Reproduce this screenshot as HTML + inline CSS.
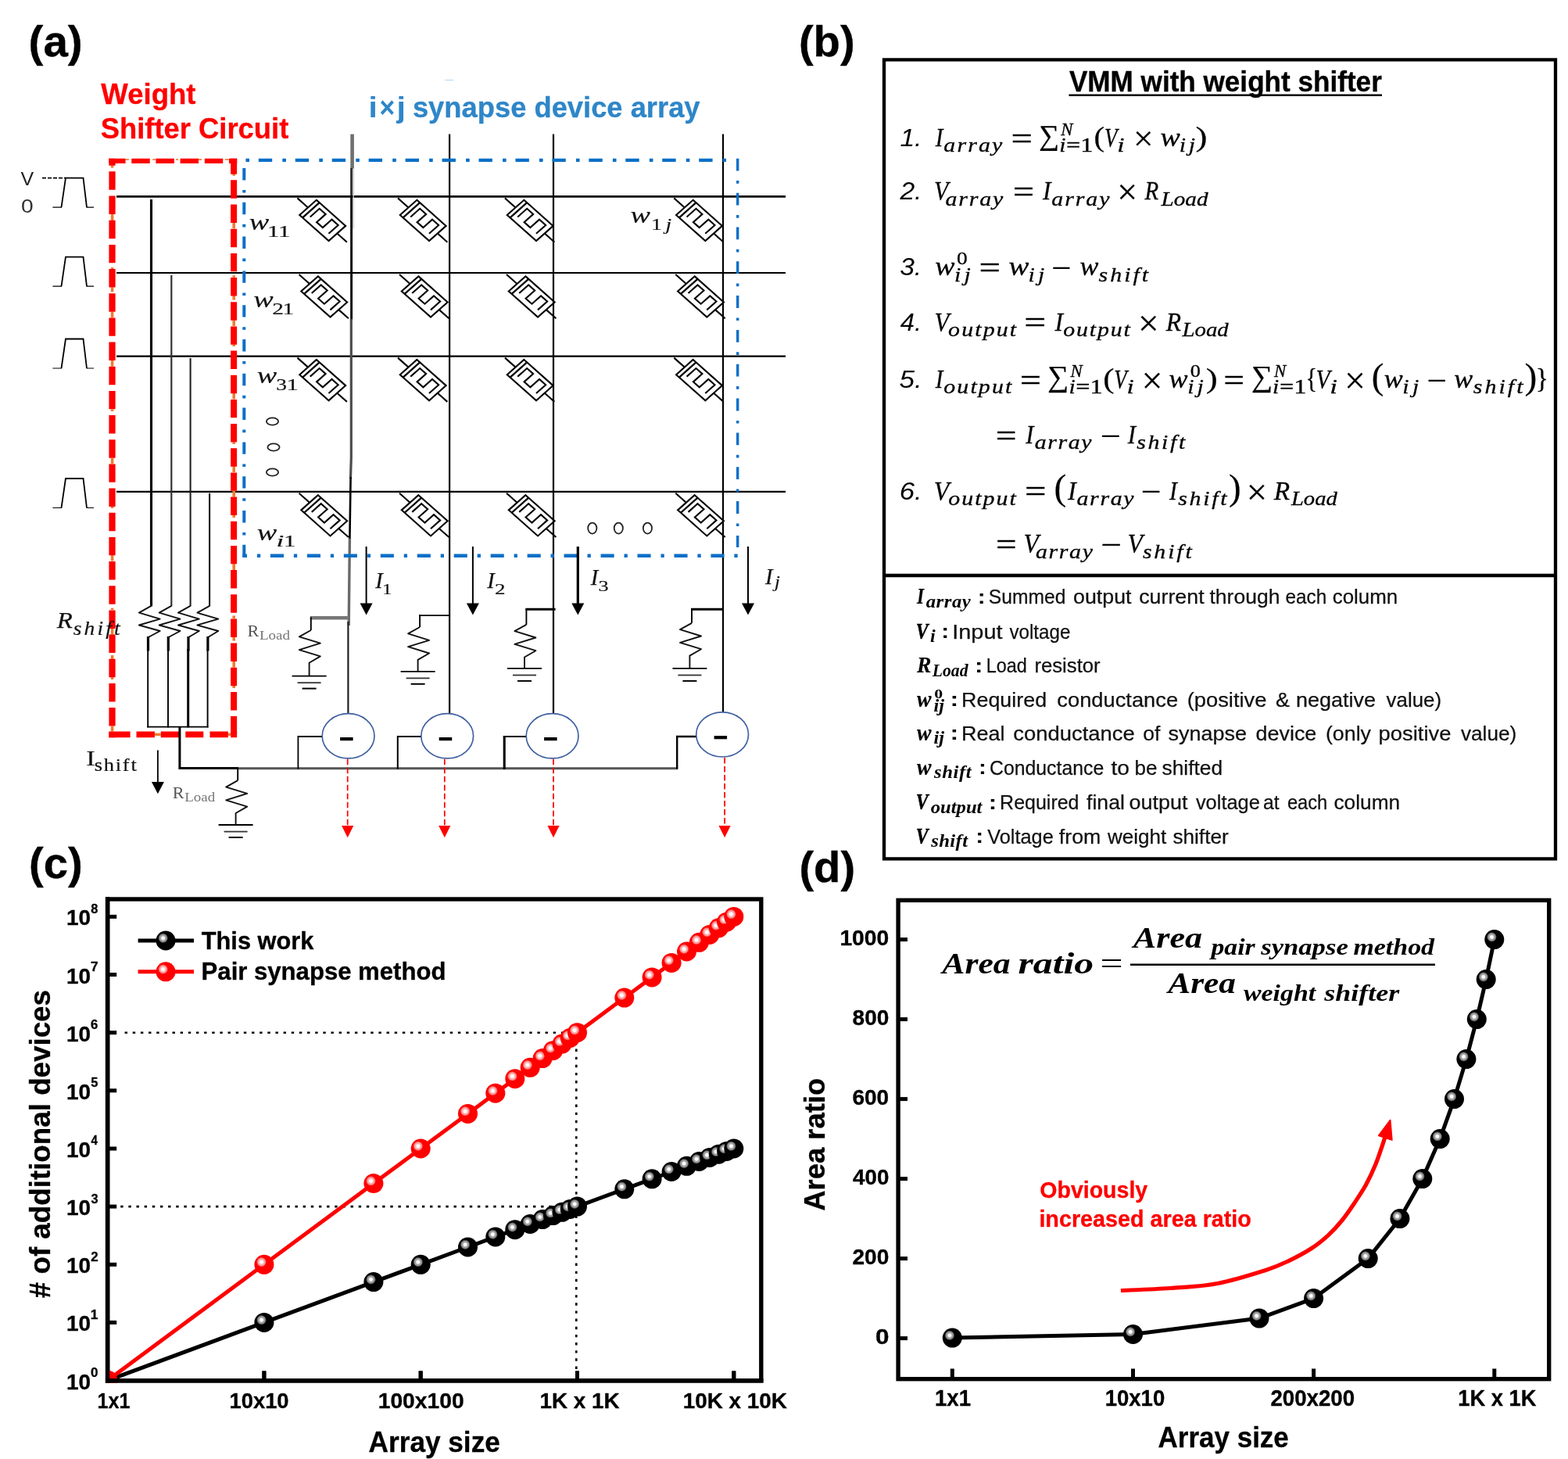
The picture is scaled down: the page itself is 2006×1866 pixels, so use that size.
<!DOCTYPE html>
<html lang="en">
<head>
<meta charset="utf-8">
<title>Weight shifter circuit figure</title>
<style>
html,body{margin:0;padding:0;background:#fff;}
body{width:2006px;height:1866px;overflow:hidden;}
svg{display:block;}
.f-sans{font-family:"Liberation Sans", Arial, Helvetica, sans-serif;}
.f-serif{font-family:"Liberation Serif", "Times New Roman", serif;}
text{white-space:pre;}
</style>
</head>
<body>
<svg width="2006" height="1866" viewBox="0 0 2006 1866">
<defs>
<radialGradient id="gk" cx="0.365" cy="0.372" r="0.255" fx="0.365" fy="0.372">
<stop offset="0" stop-color="#fff"/><stop offset="0.28" stop-color="#fff"/><stop offset="0.45" stop-color="#b4b4b4"/><stop offset="0.75" stop-color="#8a8a8a"/><stop offset="1" stop-color="#000"/>
</radialGradient>
<radialGradient id="gr" cx="0.365" cy="0.372" r="0.255" fx="0.365" fy="0.372">
<stop offset="0" stop-color="#fff"/><stop offset="0.28" stop-color="#fff"/><stop offset="0.45" stop-color="#ffc4c4"/><stop offset="0.75" stop-color="#ff8e8e"/><stop offset="1" stop-color="#ff0000"/>
</radialGradient>
</defs>
<rect x="0" y="0" width="2006" height="1866" fill="#fff"/>
<g id="panel-a">
<text class="f-sans" x="36.6" y="72.2" font-size="55.5" font-weight="bold" textLength="69.1" lengthAdjust="spacingAndGlyphs" stroke="#000" stroke-width="0.35" stroke-linejoin="round">(a)</text>
<text class="f-sans" x="129.3" y="133.0" font-size="36.5" font-weight="bold" fill="#ff0000" textLength="121.2" lengthAdjust="spacingAndGlyphs" stroke="#ff0000" stroke-width="0.3" stroke-linejoin="round">Weight</text>
<text class="f-sans" x="128.7" y="177.0" font-size="36.5" font-weight="bold" fill="#ff0000" textLength="240.6" lengthAdjust="spacingAndGlyphs" stroke="#ff0000" stroke-width="0.3" stroke-linejoin="round">Shifter Circuit</text>
<text class="f-sans" x="471.5" y="150.0" font-size="36.5" font-weight="bold" fill="#2e86c8" textLength="11.3" lengthAdjust="spacingAndGlyphs">i</text>
<text class="f-sans" x="485.5" y="150.0" font-size="36.5" font-weight="bold" fill="#2e86c8" textLength="19.7" lengthAdjust="spacingAndGlyphs">×</text>
<text class="f-sans" x="507.4" y="150.0" font-size="36.5" font-weight="bold" fill="#2e86c8" textLength="11.5" lengthAdjust="spacingAndGlyphs">j</text>
<text class="f-sans" x="527.9" y="150.0" font-size="36.5" font-weight="bold" fill="#2e86c8" textLength="367.7" lengthAdjust="spacingAndGlyphs" stroke="#2e86c8" stroke-width="0.3" stroke-linejoin="round">synapse device array</text>
<line x1="149.0" y1="251.4" x2="1005.0" y2="251.4" stroke="#000" stroke-width="2.9"/>
<line x1="149.0" y1="349.0" x2="1005.0" y2="349.0" stroke="#000" stroke-width="2.2"/>
<line x1="149.0" y1="455.6" x2="1005.0" y2="455.6" stroke="#000" stroke-width="2.2"/>
<line x1="149.0" y1="628.8" x2="1005.0" y2="628.8" stroke="#000" stroke-width="2.2"/>
<line x1="450.6" y1="171.6" x2="450.6" y2="216.0" stroke="#707070" stroke-width="4.6"/>
<line x1="452.2" y1="215.0" x2="452.2" y2="292.0" stroke="#c8c8c8" stroke-width="1.4"/>
<line x1="449.6" y1="215.0" x2="449.6" y2="251.0" stroke="#333" stroke-width="3"/>
<path d="M449.6,250 L449.6,409" stroke="#000" stroke-width="2.9" fill="none"/>
<path d="M449.3,408 L449.3,585 L448.5,612" stroke="#4c4c4c" stroke-width="3.2" fill="none"/>
<path d="M448.6,610 L447.4,690" stroke="#000" stroke-width="2.6" fill="none"/>
<path d="M447.4,689 L446.2,800" stroke="#6a6a6a" stroke-width="3.4" fill="none"/>
<line x1="445.4" y1="795.0" x2="445.4" y2="913.0" stroke="#222" stroke-width="2.2"/>
<line x1="575.1" y1="171.5" x2="575.1" y2="913.0" stroke="#000" stroke-width="2.2"/>
<line x1="708.0" y1="171.5" x2="708.0" y2="913.0" stroke="#000" stroke-width="2.2"/>
<line x1="925.0" y1="171.5" x2="925.0" y2="911.0" stroke="#000" stroke-width="2.2"/>
<g class="mem" transform="translate(380.5,253.4) scale(1.126,1) rotate(45)" fill="none" stroke="#000" stroke-width="2.1"><path vector-effect="non-scaling-stroke" d="M0,0 L17,0 M63.8,0 L79.6,0"/><path vector-effect="non-scaling-stroke" d="M17,-13.6 L63.8,-13.6 L63.8,13.5 L17,13.5 Z"/><path vector-effect="non-scaling-stroke" d="M21.8,-13.6 L21.8,13.5" stroke-width="2.3"/><path vector-effect="non-scaling-stroke" d="M27.2,6.8 L27.2,-8.2 L37.2,-8.2 L37.2,6.3 L47,6.3 L47,-8.3 L57.2,-8.3 L57.2,7"/></g>
<g class="mem" transform="translate(382.5,351.0) scale(1.126,1) rotate(45)" fill="none" stroke="#000" stroke-width="2.1"><path vector-effect="non-scaling-stroke" d="M0,0 L17,0 M63.8,0 L79.6,0"/><path vector-effect="non-scaling-stroke" d="M17,-13.6 L63.8,-13.6 L63.8,13.5 L17,13.5 Z"/><path vector-effect="non-scaling-stroke" d="M21.8,-13.6 L21.8,13.5" stroke-width="2.3"/><path vector-effect="non-scaling-stroke" d="M27.2,6.8 L27.2,-8.2 L37.2,-8.2 L37.2,6.3 L47,6.3 L47,-8.3 L57.2,-8.3 L57.2,7"/></g>
<g class="mem" transform="translate(380.5,457.6) scale(1.126,1) rotate(45)" fill="none" stroke="#000" stroke-width="2.1"><path vector-effect="non-scaling-stroke" d="M0,0 L17,0 M63.8,0 L79.6,0"/><path vector-effect="non-scaling-stroke" d="M17,-13.6 L63.8,-13.6 L63.8,13.5 L17,13.5 Z"/><path vector-effect="non-scaling-stroke" d="M21.8,-13.6 L21.8,13.5" stroke-width="2.3"/><path vector-effect="non-scaling-stroke" d="M27.2,6.8 L27.2,-8.2 L37.2,-8.2 L37.2,6.3 L47,6.3 L47,-8.3 L57.2,-8.3 L57.2,7"/></g>
<g class="mem" transform="translate(382.5,630.8) scale(1.126,1) rotate(45)" fill="none" stroke="#000" stroke-width="2.1"><path vector-effect="non-scaling-stroke" d="M0,0 L17,0 M63.8,0 L79.6,0"/><path vector-effect="non-scaling-stroke" d="M17,-13.6 L63.8,-13.6 L63.8,13.5 L17,13.5 Z"/><path vector-effect="non-scaling-stroke" d="M21.8,-13.6 L21.8,13.5" stroke-width="2.3"/><path vector-effect="non-scaling-stroke" d="M27.2,6.8 L27.2,-8.2 L37.2,-8.2 L37.2,6.3 L47,6.3 L47,-8.3 L57.2,-8.3 L57.2,7"/></g>
<g class="mem" transform="translate(509.0,253.4) scale(1.126,1) rotate(45)" fill="none" stroke="#000" stroke-width="2.1"><path vector-effect="non-scaling-stroke" d="M0,0 L17,0 M63.8,0 L79.6,0"/><path vector-effect="non-scaling-stroke" d="M17,-13.6 L63.8,-13.6 L63.8,13.5 L17,13.5 Z"/><path vector-effect="non-scaling-stroke" d="M21.8,-13.6 L21.8,13.5" stroke-width="2.3"/><path vector-effect="non-scaling-stroke" d="M27.2,6.8 L27.2,-8.2 L37.2,-8.2 L37.2,6.3 L47,6.3 L47,-8.3 L57.2,-8.3 L57.2,7"/></g>
<g class="mem" transform="translate(511.0,351.0) scale(1.126,1) rotate(45)" fill="none" stroke="#000" stroke-width="2.1"><path vector-effect="non-scaling-stroke" d="M0,0 L17,0 M63.8,0 L79.6,0"/><path vector-effect="non-scaling-stroke" d="M17,-13.6 L63.8,-13.6 L63.8,13.5 L17,13.5 Z"/><path vector-effect="non-scaling-stroke" d="M21.8,-13.6 L21.8,13.5" stroke-width="2.3"/><path vector-effect="non-scaling-stroke" d="M27.2,6.8 L27.2,-8.2 L37.2,-8.2 L37.2,6.3 L47,6.3 L47,-8.3 L57.2,-8.3 L57.2,7"/></g>
<g class="mem" transform="translate(509.0,457.6) scale(1.126,1) rotate(45)" fill="none" stroke="#000" stroke-width="2.1"><path vector-effect="non-scaling-stroke" d="M0,0 L17,0 M63.8,0 L79.6,0"/><path vector-effect="non-scaling-stroke" d="M17,-13.6 L63.8,-13.6 L63.8,13.5 L17,13.5 Z"/><path vector-effect="non-scaling-stroke" d="M21.8,-13.6 L21.8,13.5" stroke-width="2.3"/><path vector-effect="non-scaling-stroke" d="M27.2,6.8 L27.2,-8.2 L37.2,-8.2 L37.2,6.3 L47,6.3 L47,-8.3 L57.2,-8.3 L57.2,7"/></g>
<g class="mem" transform="translate(511.0,630.8) scale(1.126,1) rotate(45)" fill="none" stroke="#000" stroke-width="2.1"><path vector-effect="non-scaling-stroke" d="M0,0 L17,0 M63.8,0 L79.6,0"/><path vector-effect="non-scaling-stroke" d="M17,-13.6 L63.8,-13.6 L63.8,13.5 L17,13.5 Z"/><path vector-effect="non-scaling-stroke" d="M21.8,-13.6 L21.8,13.5" stroke-width="2.3"/><path vector-effect="non-scaling-stroke" d="M27.2,6.8 L27.2,-8.2 L37.2,-8.2 L37.2,6.3 L47,6.3 L47,-8.3 L57.2,-8.3 L57.2,7"/></g>
<g class="mem" transform="translate(646.0,253.4) scale(1.126,1) rotate(45)" fill="none" stroke="#000" stroke-width="2.1"><path vector-effect="non-scaling-stroke" d="M0,0 L17,0 M63.8,0 L79.6,0"/><path vector-effect="non-scaling-stroke" d="M17,-13.6 L63.8,-13.6 L63.8,13.5 L17,13.5 Z"/><path vector-effect="non-scaling-stroke" d="M21.8,-13.6 L21.8,13.5" stroke-width="2.3"/><path vector-effect="non-scaling-stroke" d="M27.2,6.8 L27.2,-8.2 L37.2,-8.2 L37.2,6.3 L47,6.3 L47,-8.3 L57.2,-8.3 L57.2,7"/></g>
<g class="mem" transform="translate(648.0,351.0) scale(1.126,1) rotate(45)" fill="none" stroke="#000" stroke-width="2.1"><path vector-effect="non-scaling-stroke" d="M0,0 L17,0 M63.8,0 L79.6,0"/><path vector-effect="non-scaling-stroke" d="M17,-13.6 L63.8,-13.6 L63.8,13.5 L17,13.5 Z"/><path vector-effect="non-scaling-stroke" d="M21.8,-13.6 L21.8,13.5" stroke-width="2.3"/><path vector-effect="non-scaling-stroke" d="M27.2,6.8 L27.2,-8.2 L37.2,-8.2 L37.2,6.3 L47,6.3 L47,-8.3 L57.2,-8.3 L57.2,7"/></g>
<g class="mem" transform="translate(646.0,457.6) scale(1.126,1) rotate(45)" fill="none" stroke="#000" stroke-width="2.1"><path vector-effect="non-scaling-stroke" d="M0,0 L17,0 M63.8,0 L79.6,0"/><path vector-effect="non-scaling-stroke" d="M17,-13.6 L63.8,-13.6 L63.8,13.5 L17,13.5 Z"/><path vector-effect="non-scaling-stroke" d="M21.8,-13.6 L21.8,13.5" stroke-width="2.3"/><path vector-effect="non-scaling-stroke" d="M27.2,6.8 L27.2,-8.2 L37.2,-8.2 L37.2,6.3 L47,6.3 L47,-8.3 L57.2,-8.3 L57.2,7"/></g>
<g class="mem" transform="translate(648.0,630.8) scale(1.126,1) rotate(45)" fill="none" stroke="#000" stroke-width="2.1"><path vector-effect="non-scaling-stroke" d="M0,0 L17,0 M63.8,0 L79.6,0"/><path vector-effect="non-scaling-stroke" d="M17,-13.6 L63.8,-13.6 L63.8,13.5 L17,13.5 Z"/><path vector-effect="non-scaling-stroke" d="M21.8,-13.6 L21.8,13.5" stroke-width="2.3"/><path vector-effect="non-scaling-stroke" d="M27.2,6.8 L27.2,-8.2 L37.2,-8.2 L37.2,6.3 L47,6.3 L47,-8.3 L57.2,-8.3 L57.2,7"/></g>
<g class="mem" transform="translate(862.3,253.4) scale(1.126,1) rotate(45)" fill="none" stroke="#000" stroke-width="2.1"><path vector-effect="non-scaling-stroke" d="M0,0 L17,0 M63.8,0 L79.6,0"/><path vector-effect="non-scaling-stroke" d="M17,-13.6 L63.8,-13.6 L63.8,13.5 L17,13.5 Z"/><path vector-effect="non-scaling-stroke" d="M21.8,-13.6 L21.8,13.5" stroke-width="2.3"/><path vector-effect="non-scaling-stroke" d="M27.2,6.8 L27.2,-8.2 L37.2,-8.2 L37.2,6.3 L47,6.3 L47,-8.3 L57.2,-8.3 L57.2,7"/></g>
<g class="mem" transform="translate(864.3,351.0) scale(1.126,1) rotate(45)" fill="none" stroke="#000" stroke-width="2.1"><path vector-effect="non-scaling-stroke" d="M0,0 L17,0 M63.8,0 L79.6,0"/><path vector-effect="non-scaling-stroke" d="M17,-13.6 L63.8,-13.6 L63.8,13.5 L17,13.5 Z"/><path vector-effect="non-scaling-stroke" d="M21.8,-13.6 L21.8,13.5" stroke-width="2.3"/><path vector-effect="non-scaling-stroke" d="M27.2,6.8 L27.2,-8.2 L37.2,-8.2 L37.2,6.3 L47,6.3 L47,-8.3 L57.2,-8.3 L57.2,7"/></g>
<g class="mem" transform="translate(862.3,457.6) scale(1.126,1) rotate(45)" fill="none" stroke="#000" stroke-width="2.1"><path vector-effect="non-scaling-stroke" d="M0,0 L17,0 M63.8,0 L79.6,0"/><path vector-effect="non-scaling-stroke" d="M17,-13.6 L63.8,-13.6 L63.8,13.5 L17,13.5 Z"/><path vector-effect="non-scaling-stroke" d="M21.8,-13.6 L21.8,13.5" stroke-width="2.3"/><path vector-effect="non-scaling-stroke" d="M27.2,6.8 L27.2,-8.2 L37.2,-8.2 L37.2,6.3 L47,6.3 L47,-8.3 L57.2,-8.3 L57.2,7"/></g>
<g class="mem" transform="translate(864.3,630.8) scale(1.126,1) rotate(45)" fill="none" stroke="#000" stroke-width="2.1"><path vector-effect="non-scaling-stroke" d="M0,0 L17,0 M63.8,0 L79.6,0"/><path vector-effect="non-scaling-stroke" d="M17,-13.6 L63.8,-13.6 L63.8,13.5 L17,13.5 Z"/><path vector-effect="non-scaling-stroke" d="M21.8,-13.6 L21.8,13.5" stroke-width="2.3"/><path vector-effect="non-scaling-stroke" d="M27.2,6.8 L27.2,-8.2 L37.2,-8.2 L37.2,6.3 L47,6.3 L47,-8.3 L57.2,-8.3 L57.2,7"/></g>
<line x1="314.4" y1="204.9" x2="929.0" y2="204.9" stroke="#0b6fc7" stroke-width="4.3" stroke-dasharray="4.6 11.8 17.4 13.15"/>
<line x1="312.3" y1="215.0" x2="312.3" y2="712.9" stroke="#0b6fc7" stroke-width="4" stroke-dasharray="15.4 12.6 3.6 12.2"/>
<line x1="943.7" y1="202.8" x2="943.7" y2="700.0" stroke="#0b6fc7" stroke-width="3.4" stroke-dasharray="15.8 12.5 3.7 11.83"/>
<line x1="310.3" y1="710.8" x2="316.0" y2="710.8" stroke="#0b6fc7" stroke-width="4.4"/>
<line x1="328.9" y1="710.8" x2="944.0" y2="710.8" stroke="#0b6fc7" stroke-width="4.4" stroke-dasharray="4.3 12.7 17.1 12.86"/>
<rect x="141.8" y="211.4" width="3.6" height="3.2" fill="#ed7d31"/>
<rect x="141.8" y="274" width="3.6" height="8" fill="#ed7d31"/>
<rect x="141.8" y="342" width="3.6" height="2.2" fill="#ed7d31"/>
<rect x="141.8" y="367.4" width="3.6" height="6" fill="#ed7d31"/>
<rect x="297.4" y="222" width="3.6" height="2.8" fill="#ed7d31"/>
<rect x="297.4" y="284.5" width="3.6" height="7.8" fill="#ed7d31"/>
<rect x="297.4" y="352.2" width="3.6" height="2.6" fill="#ed7d31"/>
<rect x="297.4" y="378" width="3.6" height="5.6" fill="#ed7d31"/>
<rect x="160.5" y="203.2" width="4.4" height="1.7" fill="#ed7d31"/>
<rect x="195.2" y="203.2" width="4" height="1.7" fill="#ed7d31"/>
<rect x="225" y="203.2" width="3" height="1.7" fill="#ed7d31"/>
<rect x="254" y="203.2" width="4" height="1.7" fill="#ed7d31"/>
<rect x="288" y="203.2" width="4.6" height="1.7" fill="#ed7d31"/>
<rect x="197.9" y="937.6" width="7.8" height="3.6" fill="#ed7d31"/>
<rect x="291.7" y="937.6" width="3.6" height="3.6" fill="#ed7d31"/>
<rect x="141.8" y="647.3" width="3.6" height="2.7" fill="#ed7d31"/>
<rect x="141.8" y="708.6" width="3.6" height="8.8" fill="#ed7d31"/>
<rect x="141.8" y="777.7" width="3.6" height="2.3" fill="#ed7d31"/>
<rect x="141.8" y="804" width="3.6" height="7.8" fill="#ed7d31"/>
<rect x="141.8" y="838" width="3.6" height="5.0" fill="#ed7d31"/>
<rect x="141.8" y="866" width="3.6" height="3.0" fill="#ed7d31"/>
<rect x="141.8" y="928.6" width="3.6" height="6.8" fill="#ed7d31"/>
<rect x="141.8" y="399" width="3.6" height="7.3" fill="#ed7d31"/>
<rect x="141.8" y="461" width="3.6" height="7.6" fill="#ed7d31"/>
<rect x="141.8" y="523.5" width="3.6" height="2.5" fill="#ed7d31"/>
<rect x="141.8" y="586" width="3.6" height="7.2" fill="#ed7d31"/>
<rect x="297.4" y="627.8" width="3.6" height="7.8" fill="#ed7d31"/>
<rect x="297.4" y="658.9" width="3.6" height="3.1" fill="#ed7d31"/>
<rect x="297.4" y="720.7" width="3.6" height="8.3" fill="#ed7d31"/>
<rect x="297.4" y="787.4" width="3.6" height="3.9" fill="#ed7d31"/>
<rect x="297.4" y="814.7" width="3.6" height="4.9" fill="#ed7d31"/>
<rect x="297.4" y="845.9" width="3.6" height="7.7" fill="#ed7d31"/>
<rect x="297.4" y="877" width="3.6" height="3.0" fill="#ed7d31"/>
<rect x="297.4" y="409.3" width="3.6" height="7.7" fill="#ed7d31"/>
<rect x="297.4" y="440.4" width="3.6" height="2.6" fill="#ed7d31"/>
<rect x="297.4" y="502.8" width="3.6" height="7.7" fill="#ed7d31"/>
<rect x="297.4" y="565.2" width="3.6" height="2.8" fill="#ed7d31"/>
<rect x="297.4" y="596.3" width="3.6" height="7.7" fill="#ed7d31"/>
<line x1="139.3" y1="205.9" x2="303.2" y2="205.9" stroke="#ff0000" stroke-width="6.4" stroke-dasharray="23.45 7.72" stroke-dashoffset="2.2"/>
<line x1="143.5" y1="202.7" x2="143.5" y2="943.2" stroke="#ff0000" stroke-width="8.2" stroke-dasharray="23.45 7.72" stroke-dashoffset="14.5"/>
<line x1="299.1" y1="202.7" x2="299.1" y2="943.2" stroke="#ff0000" stroke-width="8" stroke-dasharray="23.45 7.72" stroke-dashoffset="3.5"/>
<line x1="139.4" y1="939.3" x2="303.1" y2="939.3" stroke="#ff0000" stroke-width="7.8" stroke-dasharray="27.2 7.9 23.4 7.9 23.3 8.2 23 8.2 23.3 3.5 8"/>
<line x1="569.0" y1="102.4" x2="580.5" y2="102.4" stroke="#b5d6f2" stroke-width="1"/>
<g class="pulse" transform="translate(0,227.6)" fill="none" stroke="#000" stroke-width="1.8"><path d="M78.5,37.5 L84,0 L106.5,0 L111,37.5"/><path d="M67.4,37.5 L79,37.5 M110.5,37.5 L120,37.5" stroke-width="1.2"/></g>
<g class="pulse" transform="translate(0,328.7)" fill="none" stroke="#000" stroke-width="1.8"><path d="M78.5,37.5 L84,0 L106.5,0 L111,37.5"/><path d="M67.4,37.5 L79,37.5 M110.5,37.5 L120,37.5" stroke-width="1.2"/></g>
<g class="pulse" transform="translate(0,433.5)" fill="none" stroke="#000" stroke-width="1.8"><path d="M78.5,37.5 L84,0 L106.5,0 L111,37.5"/><path d="M67.4,37.5 L79,37.5 M110.5,37.5 L120,37.5" stroke-width="1.2"/></g>
<g class="pulse" transform="translate(0,612.0)" fill="none" stroke="#000" stroke-width="1.8"><path d="M78.5,37.5 L84,0 L106.5,0 L111,37.5"/><path d="M67.4,37.5 L79,37.5 M110.5,37.5 L120,37.5" stroke-width="1.2"/></g>
<line x1="54.0" y1="227.6" x2="84.0" y2="227.6" stroke="#000" stroke-width="1.6" stroke-dasharray="5 2"/>
<text class="f-sans" x="26.4" y="236.6" font-size="23.5" font-weight="normal" fill="#222" textLength="16.7" lengthAdjust="spacingAndGlyphs">V</text>
<text class="f-sans" x="26.9" y="272.2" font-size="23.5" font-weight="normal" fill="#333" textLength="15.7" lengthAdjust="spacingAndGlyphs">0</text>
<text class="f-serif" x="318.7" y="294.2" font-size="28.5" font-weight="normal" font-style="italic" fill="#111" textLength="25.5" lengthAdjust="spacingAndGlyphs" stroke="#111" stroke-width="0.15" stroke-linejoin="round">w</text>
<text class="f-serif" x="341.9" y="302.8" font-size="22" font-weight="normal" fill="#111" textLength="15.3" lengthAdjust="spacingAndGlyphs" stroke="#111" stroke-width="0.2" stroke-linejoin="round">1</text>
<text class="f-serif" x="355.9" y="302.8" font-size="22" font-weight="normal" fill="#111" textLength="15.3" lengthAdjust="spacingAndGlyphs" stroke="#111" stroke-width="0.2" stroke-linejoin="round">1</text>
<text class="f-serif" x="324.2" y="393.0" font-size="28.5" font-weight="normal" font-style="italic" fill="#111" textLength="25.5" lengthAdjust="spacingAndGlyphs" stroke="#111" stroke-width="0.15" stroke-linejoin="round">w</text>
<text class="f-serif" x="348.3" y="401.6" font-size="22" font-weight="normal" fill="#111" textLength="14.7" lengthAdjust="spacingAndGlyphs" stroke="#111" stroke-width="0.2" stroke-linejoin="round">2</text>
<text class="f-serif" x="361.5" y="401.6" font-size="22" font-weight="normal" fill="#111" textLength="14.6" lengthAdjust="spacingAndGlyphs" stroke="#111" stroke-width="0.2" stroke-linejoin="round">1</text>
<text class="f-serif" x="328.7" y="490.0" font-size="28.5" font-weight="normal" font-style="italic" fill="#111" textLength="25.5" lengthAdjust="spacingAndGlyphs" stroke="#111" stroke-width="0.15" stroke-linejoin="round">w</text>
<text class="f-serif" x="353.3" y="498.6" font-size="22" font-weight="normal" fill="#111" textLength="13.7" lengthAdjust="spacingAndGlyphs" stroke="#111" stroke-width="0.2" stroke-linejoin="round">3</text>
<text class="f-serif" x="366.4" y="498.6" font-size="22" font-weight="normal" fill="#111" textLength="15.3" lengthAdjust="spacingAndGlyphs" stroke="#111" stroke-width="0.2" stroke-linejoin="round">1</text>
<text class="f-serif" x="328.7" y="690.6" font-size="28.5" font-weight="normal" font-style="italic" fill="#111" textLength="25.5" lengthAdjust="spacingAndGlyphs" stroke="#111" stroke-width="0.15" stroke-linejoin="round">w</text>
<text class="f-serif" x="353.6" y="699.2" font-size="22" font-weight="normal" font-style="italic" fill="#111" textLength="9.8" lengthAdjust="spacingAndGlyphs" stroke="#111" stroke-width="0.2" stroke-linejoin="round">i</text>
<text class="f-serif" x="362.9" y="699.2" font-size="22" font-weight="normal" fill="#111" textLength="15.3" lengthAdjust="spacingAndGlyphs" stroke="#111" stroke-width="0.2" stroke-linejoin="round">1</text>
<text class="f-serif" x="806.5" y="285.4" font-size="28.5" font-weight="normal" font-style="italic" fill="#111" textLength="25.5" lengthAdjust="spacingAndGlyphs" stroke="#111" stroke-width="0.15" stroke-linejoin="round">w</text>
<text class="f-serif" x="833.1" y="294.0" font-size="22" font-weight="normal" fill="#111" textLength="13.9" lengthAdjust="spacingAndGlyphs" stroke="#111" stroke-width="0.2" stroke-linejoin="round">1</text>
<text class="f-serif" x="851.4" y="294.0" font-size="22" font-weight="normal" font-style="italic" fill="#111" textLength="7.6" lengthAdjust="spacingAndGlyphs" stroke="#111" stroke-width="0.2" stroke-linejoin="round">j</text>
<ellipse cx="348.5" cy="539" rx="7.6" ry="4.6" fill="none" stroke="#222" stroke-width="1.8"/>
<ellipse cx="350" cy="572" rx="7.6" ry="4.6" fill="none" stroke="#222" stroke-width="1.8"/>
<ellipse cx="348.5" cy="604" rx="7.6" ry="4.6" fill="none" stroke="#222" stroke-width="1.8"/>
<ellipse cx="757.8" cy="675.6" rx="5.6" ry="7" fill="none" stroke="#222" stroke-width="1.8"/>
<ellipse cx="791.3" cy="675.6" rx="5.6" ry="7" fill="none" stroke="#222" stroke-width="1.8"/>
<ellipse cx="828.4" cy="675.6" rx="5.6" ry="7" fill="none" stroke="#222" stroke-width="1.8"/>
<line x1="468.6" y1="699.0" x2="468.6" y2="773.4" stroke="#000" stroke-width="2"/>
<path d="M460.6,771.4 L476.6,771.4 L468.6,786.6 Z" fill="#000"/>
<line x1="604.9" y1="699.0" x2="604.9" y2="773.4" stroke="#000" stroke-width="2"/>
<path d="M596.9,771.4 L612.9,771.4 L604.9,786.6 Z" fill="#000"/>
<line x1="739.3" y1="699.0" x2="739.3" y2="773.4" stroke="#000" stroke-width="3.2"/>
<path d="M731.3,771.4 L747.3,771.4 L739.3,786.6 Z" fill="#000"/>
<line x1="957.0" y1="699.0" x2="957.0" y2="773.4" stroke="#000" stroke-width="2"/>
<path d="M949.0,771.4 L965.0,771.4 L957.0,786.6 Z" fill="#000"/>
<text class="f-serif" x="480.2" y="752.3" font-size="30" font-weight="normal" font-style="italic" fill="#111" textLength="9.5" lengthAdjust="spacingAndGlyphs" stroke="#111" stroke-width="0.25" stroke-linejoin="round">I</text>
<text class="f-serif" x="489.1" y="759.7" font-size="18.5" font-weight="normal" fill="#111" textLength="12.5" lengthAdjust="spacingAndGlyphs" stroke="#111" stroke-width="0.2" stroke-linejoin="round">1</text>
<text class="f-serif" x="623.2" y="752.3" font-size="30" font-weight="normal" font-style="italic" fill="#111" textLength="9.5" lengthAdjust="spacingAndGlyphs" stroke="#111" stroke-width="0.25" stroke-linejoin="round">I</text>
<text class="f-serif" x="633.1" y="759.7" font-size="18.5" font-weight="normal" fill="#111" textLength="13.5" lengthAdjust="spacingAndGlyphs" stroke="#111" stroke-width="0.2" stroke-linejoin="round">2</text>
<text class="f-serif" x="755.8" y="748.4" font-size="30" font-weight="normal" font-style="italic" fill="#111" textLength="9.5" lengthAdjust="spacingAndGlyphs" stroke="#111" stroke-width="0.25" stroke-linejoin="round">I</text>
<text class="f-serif" x="765.6" y="755.8" font-size="18.5" font-weight="normal" fill="#111" textLength="13.1" lengthAdjust="spacingAndGlyphs" stroke="#111" stroke-width="0.2" stroke-linejoin="round">3</text>
<text class="f-serif" x="979.0" y="747.0" font-size="30" font-weight="normal" font-style="italic" fill="#111" textLength="9.5" lengthAdjust="spacingAndGlyphs" stroke="#111" stroke-width="0.25" stroke-linejoin="round">I</text>
<text class="f-serif" x="990.9" y="751.2" font-size="20" font-weight="normal" font-style="italic" fill="#111" textLength="6.8" lengthAdjust="spacingAndGlyphs" stroke="#111" stroke-width="0.2" stroke-linejoin="round">j</text>
<line x1="193.5" y1="255.0" x2="193.5" y2="775.5" stroke="#000" stroke-width="3.1"/>
<path d="M193.5,774.8 L177.9,783.7 L204.7,791.6 L177.9,799.5 L204.7,807 L189.8,815" stroke="#111" stroke-width="1.9" fill="none" stroke-linejoin="round"/>
<line x1="189.5" y1="814.0" x2="189.5" y2="832.5" stroke="#000" stroke-width="3.2"/>
<line x1="189.2" y1="830.0" x2="189.2" y2="930.4" stroke="#000" stroke-width="1.9"/>
<line x1="219.3" y1="352.0" x2="219.3" y2="775.5" stroke="#333" stroke-width="2.2"/>
<path d="M219.3,774.8 L203.7,783.7 L230.5,791.6 L203.7,799.5 L230.5,807 L215.6,815" stroke="#111" stroke-width="1.9" fill="none" stroke-linejoin="round"/>
<line x1="215.3" y1="814.0" x2="215.3" y2="832.5" stroke="#000" stroke-width="3.2"/>
<line x1="215.0" y1="830.0" x2="215.0" y2="930.4" stroke="#000" stroke-width="1.9"/>
<line x1="243.6" y1="458.0" x2="243.6" y2="775.5" stroke="#222" stroke-width="2.1"/>
<path d="M243.6,774.8 L228.0,783.7 L254.8,791.6 L228.0,799.5 L254.8,807 L241.3,815" stroke="#111" stroke-width="1.9" fill="none" stroke-linejoin="round"/>
<line x1="241.0" y1="814.0" x2="241.0" y2="832.5" stroke="#000" stroke-width="3.2"/>
<line x1="240.7" y1="830.0" x2="240.7" y2="930.4" stroke="#000" stroke-width="3"/>
<line x1="268.1" y1="630.8" x2="268.1" y2="775.5" stroke="#000" stroke-width="2"/>
<path d="M268.1,774.8 L252.5,783.7 L279.3,791.6 L252.5,799.5 L279.3,807 L266.2,815" stroke="#111" stroke-width="1.9" fill="none" stroke-linejoin="round"/>
<line x1="265.9" y1="814.0" x2="265.9" y2="832.5" stroke="#000" stroke-width="3.2"/>
<line x1="265.6" y1="830.0" x2="265.6" y2="930.4" stroke="#000" stroke-width="1.9"/>
<line x1="188.3" y1="929.7" x2="266.5" y2="929.7" stroke="#000" stroke-width="1.8"/>
<path d="M229.9,929 L229.9,982.4 L305,982.4" stroke="#000" stroke-width="3" fill="none"/>
<line x1="304.0" y1="982.7" x2="867.2" y2="982.7" stroke="#555" stroke-width="3"/>
<text class="f-serif" x="72.8" y="803.3" font-size="30" font-weight="normal" font-style="italic" fill="#111" textLength="20.1" lengthAdjust="spacingAndGlyphs" stroke="#111" stroke-width="0.25" stroke-linejoin="round">R</text>
<text class="f-serif" x="93.7" y="811.6" font-size="25" font-weight="normal" font-style="italic" fill="#111" textLength="63.1" lengthAdjust="spacingAndGlyphs" letter-spacing="2.87" stroke="#111" stroke-width="0.2">shift</text>
<text class="f-serif" x="110.2" y="978.6" font-size="28" font-weight="normal" fill="#111" textLength="11.5" lengthAdjust="spacingAndGlyphs" stroke="#111" stroke-width="0.2" stroke-linejoin="round">I</text>
<text class="f-serif" x="120.7" y="986.2" font-size="24" font-weight="normal" fill="#111" textLength="55.8" lengthAdjust="spacingAndGlyphs" letter-spacing="1.61" stroke="#111" stroke-width="0.2">shift</text>
<line x1="201.9" y1="959.6" x2="201.9" y2="1002.0" stroke="#000" stroke-width="1.8"/>
<path d="M193.9,1000.0 L209.9,1000.0 L201.9,1015.2 Z" fill="#000"/>
<line x1="446.5" y1="790.3" x2="396.8" y2="790.3" stroke="#777" stroke-width="4.6"/>
<path d="M397.8,789.3 L397.8,806.0" stroke="#000" stroke-width="1.9" fill="none"/>
<path d="M397.8,806.0 L382.8,814.4 L409.8,822.7 L382.8,831.1 L409.8,839.4 L395.6,847.8 L395.6,864.6" stroke="#111" stroke-width="1.9" fill="none" stroke-linejoin="round"/>
<g class="gnd" transform="translate(395.6,864.6)" fill="none" stroke="#000"><path d="M-22,0 L22,0" stroke-width="1.8"/><path d="M-15,8.6 L15,8.6" stroke-width="1.8" stroke="#333"/><path d="M-9,16 L9,16" stroke-width="2"/></g>
<line x1="575.0" y1="787.1" x2="536.1" y2="787.1" stroke="#000" stroke-width="1.6"/>
<path d="M537.1,786.1 L537.1,802.0" stroke="#000" stroke-width="1.9" fill="none"/>
<path d="M537.1,802.0 L522.1,810.4 L549.1,818.8 L522.1,827.1 L549.1,835.5 L534.6,843.9 L534.6,858.8" stroke="#111" stroke-width="1.9" fill="none" stroke-linejoin="round"/>
<g class="gnd" transform="translate(534.6,858.8)" fill="none" stroke="#000"><path d="M-22,0 L22,0" stroke-width="1.8"/><path d="M-15,8.6 L15,8.6" stroke-width="1.8" stroke="#333"/><path d="M-9,16 L9,16" stroke-width="2"/></g>
<line x1="710.6" y1="779.3" x2="672.4" y2="779.3" stroke="#000" stroke-width="3"/>
<path d="M673.4,778.3 L673.4,798.9" stroke="#000" stroke-width="1.9" fill="none"/>
<path d="M673.4,798.9 L658.4,807.2 L685.4,815.5 L658.4,823.9 L685.4,832.2 L671.0,840.5 L671.0,854.9" stroke="#111" stroke-width="1.9" fill="none" stroke-linejoin="round"/>
<g class="gnd" transform="translate(671.0,854.9)" fill="none" stroke="#000"><path d="M-22,0 L22,0" stroke-width="1.8"/><path d="M-15,8.6 L15,8.6" stroke-width="1.8" stroke="#333"/><path d="M-9,16 L9,16" stroke-width="2"/></g>
<line x1="925.0" y1="779.3" x2="884.0" y2="779.3" stroke="#000" stroke-width="3"/>
<path d="M885.0,778.3 L885.0,796.8" stroke="#000" stroke-width="1.9" fill="none"/>
<path d="M885.0,796.8 L870.0,805.2 L897.0,813.5 L870.0,821.9 L897.0,830.2 L882.4,838.6 L882.4,854.9" stroke="#111" stroke-width="1.9" fill="none" stroke-linejoin="round"/>
<g class="gnd" transform="translate(882.4,854.9)" fill="none" stroke="#000"><path d="M-22,0 L22,0" stroke-width="1.8"/><path d="M-15,8.6 L15,8.6" stroke-width="1.8" stroke="#333"/><path d="M-9,16 L9,16" stroke-width="2"/></g>
<path d="M304.2,981.5 L304.2,998.2" stroke="#000" stroke-width="1.9" fill="none"/>
<path d="M304.2,998.2 L289.2,1006.6 L316.2,1014.9 L289.2,1023.3 L316.2,1031.6 L301.6,1040.0 L301.6,1055.0" stroke="#111" stroke-width="1.9" fill="none" stroke-linejoin="round"/>
<g class="gnd" transform="translate(301.6,1055.0)" fill="none" stroke="#000"><path d="M-22,0 L22,0" stroke-width="1.8"/><path d="M-15,8.6 L15,8.6" stroke-width="1.8" stroke="#333"/><path d="M-9,16 L9,16" stroke-width="2"/></g>
<text class="f-serif" x="316.4" y="813.7" font-size="20.5" font-weight="normal" fill="#555" textLength="14.9" lengthAdjust="spacingAndGlyphs">R</text>
<text class="f-serif" x="331.9" y="817.6" font-size="17.5" font-weight="normal" fill="#777" textLength="39.0" lengthAdjust="spacingAndGlyphs">Load</text>
<text class="f-serif" x="220.7" y="1020.6" font-size="20.5" font-weight="normal" fill="#555" textLength="14.9" lengthAdjust="spacingAndGlyphs">R</text>
<text class="f-serif" x="236.2" y="1024.5" font-size="17.5" font-weight="normal" fill="#777" textLength="39.0" lengthAdjust="spacingAndGlyphs">Load</text>
<path d="M413.5,942 L381.4,942 L381.4,983.5" stroke="#000" stroke-width="1.8" fill="none"/>
<ellipse cx="445.6" cy="941.3" rx="33.4" ry="28.6" fill="#fff" stroke="#3f5fa0" stroke-width="1.7"/>
<line x1="435.1" y1="945.1" x2="451.6" y2="945.1" stroke="#000" stroke-width="4.2"/>
<line x1="444.7" y1="970.8" x2="444.7" y2="1056.0" stroke="#ff0000" stroke-width="1.7" stroke-dasharray="7.5 3.5"/>
<path d="M437.1,1056.0 L452.3,1056.0 L444.7,1071.2 Z" fill="#ff0000"/>
<path d="M539.5,942 L508.8,942 L508.8,983.5" stroke="#000" stroke-width="2" fill="none"/>
<ellipse cx="572.2" cy="941.3" rx="33.4" ry="28.6" fill="#fff" stroke="#3f5fa0" stroke-width="1.7"/>
<line x1="561.7" y1="945.1" x2="578.2" y2="945.1" stroke="#000" stroke-width="4.2"/>
<line x1="568.8" y1="970.8" x2="568.8" y2="1056.0" stroke="#ff0000" stroke-width="1.7" stroke-dasharray="7.5 3.5"/>
<path d="M561.2,1056.0 L576.4,1056.0 L568.8,1071.2 Z" fill="#ff0000"/>
<path d="M673.6,942 L645.2,942 L645.2,983.5" stroke="#000" stroke-width="2" fill="none"/>
<line x1="645.2" y1="941.0" x2="645.2" y2="984.0" stroke="#000" stroke-width="3"/>
<ellipse cx="706.6" cy="941.3" rx="33.4" ry="28.6" fill="#fff" stroke="#3f5fa0" stroke-width="1.7"/>
<line x1="696.1" y1="945.1" x2="712.6" y2="945.1" stroke="#000" stroke-width="4.2"/>
<line x1="708.0" y1="970.8" x2="708.0" y2="1056.0" stroke="#ff0000" stroke-width="1.7" stroke-dasharray="7.5 3.5"/>
<path d="M700.4,1056.0 L715.6,1056.0 L708.0,1071.2 Z" fill="#ff0000"/>
<path d="M891.5,942 L866.2,942 L866.2,983.5" stroke="#000" stroke-width="2.4" fill="none"/>
<ellipse cx="924.1" cy="939.4" rx="33.4" ry="28.6" fill="#fff" stroke="#3f5fa0" stroke-width="1.7"/>
<line x1="913.6" y1="943.2" x2="930.1" y2="943.2" stroke="#000" stroke-width="4.2"/>
<line x1="927.1" y1="968.9" x2="927.1" y2="1056.0" stroke="#ff0000" stroke-width="1.7" stroke-dasharray="7.5 3.5"/>
<path d="M919.5,1056.0 L934.7,1056.0 L927.1,1071.2 Z" fill="#ff0000"/>
</g>
<g id="panel-b">
<text class="f-sans" x="1021.9" y="72.2" font-size="55.5" font-weight="bold" textLength="71.7" lengthAdjust="spacingAndGlyphs" stroke="#000" stroke-width="0.35" stroke-linejoin="round">(b)</text>
<rect x="1131" y="76.4" width="859" height="1022" fill="none" stroke="#000" stroke-width="4.3"/>
<line x1="1131.0" y1="736.0" x2="1990.0" y2="736.0" stroke="#000" stroke-width="4.4"/>
<text class="f-sans" x="1367.9" y="117.4" font-size="36.5" font-weight="bold" textLength="399.9" lengthAdjust="spacingAndGlyphs" stroke="#000" stroke-width="0.35" stroke-linejoin="round">VMM with weight shifter</text>
<line x1="1367.5" y1="121.8" x2="1768.0" y2="121.8" stroke="#000" stroke-width="2.6"/>
<text class="f-sans" x="1151.4" y="186.8" font-size="31" font-weight="normal" font-style="italic" textLength="28.1" lengthAdjust="spacingAndGlyphs">1.</text>
<text class="f-serif" x="1196.7" y="186.8" font-size="34.5" font-weight="normal" font-style="italic" textLength="9.7" lengthAdjust="spacingAndGlyphs" stroke="#000" stroke-width="0.3" stroke-linejoin="round">I</text>
<text class="f-serif" x="1207.3" y="194.2" font-size="26" font-weight="normal" font-style="italic" textLength="77.1" lengthAdjust="spacingAndGlyphs" letter-spacing="1.86" stroke="#000" stroke-width="0.3">array</text>
<text class="f-serif" x="1293.6" y="190.5" font-size="40" font-weight="normal" textLength="27.4" lengthAdjust="spacingAndGlyphs" stroke="#000" stroke-width="0.3">=</text>
<text class="f-serif" x="1329.2" y="184.5" font-size="36.11" font-weight="normal" stroke="#000" stroke-width="0.3">∑</text>
<text class="f-serif" x="1357.2" y="173.0" font-size="22.5" font-weight="normal" font-style="italic" textLength="15.2" lengthAdjust="spacingAndGlyphs" stroke="#000" stroke-width="0.3" stroke-linejoin="round">N</text>
<text class="f-serif" x="1355.2" y="194.2" font-size="26" font-weight="normal" font-style="italic" textLength="8.3" lengthAdjust="spacingAndGlyphs" stroke="#000" stroke-width="0.3">i</text>
<text class="f-serif" x="1364.1" y="194.2" font-size="26" font-weight="normal" textLength="34.5" lengthAdjust="spacingAndGlyphs" stroke="#000" stroke-width="0.3">=1</text>
<text class="f-serif" x="1399.6" y="187.1" font-size="35.3" font-weight="normal" textLength="13.6" lengthAdjust="spacingAndGlyphs" stroke="#000" stroke-width="0.2" stroke-linejoin="round">(</text>
<text class="f-serif" x="1413.1" y="186.8" font-size="34.5" font-weight="normal" font-style="italic" textLength="16.4" lengthAdjust="spacingAndGlyphs" stroke="#000" stroke-width="0.3" stroke-linejoin="round">V</text>
<text class="f-serif" x="1429.3" y="194.2" font-size="26" font-weight="normal" font-style="italic" textLength="9.4" lengthAdjust="spacingAndGlyphs" stroke="#000" stroke-width="0.3">i</text>
<text class="f-serif" x="1450.0" y="192.4" font-size="45.24" font-weight="normal" stroke="#000" stroke-width="0.2">×</text>
<text class="f-serif" x="1484.4" y="186.8" font-size="34.5" font-weight="normal" font-style="italic" textLength="25.3" lengthAdjust="spacingAndGlyphs" stroke="#000" stroke-width="0.3" stroke-linejoin="round">w</text>
<text class="f-serif" x="1508.7" y="194.2" font-size="26" font-weight="normal" font-style="italic" textLength="24.2" lengthAdjust="spacingAndGlyphs" letter-spacing="3.29" stroke="#000" stroke-width="0.3">ij</text>
<text class="f-serif" x="1529.6" y="187.1" font-size="35.3" font-weight="normal" textLength="15.0" lengthAdjust="spacingAndGlyphs" stroke="#000" stroke-width="0.2" stroke-linejoin="round">)</text>
<text class="f-sans" x="1151.4" y="255.2" font-size="31" font-weight="normal" font-style="italic" textLength="28.1" lengthAdjust="spacingAndGlyphs">2.</text>
<text class="f-serif" x="1195.0" y="255.2" font-size="34.5" font-weight="normal" font-style="italic" textLength="18.3" lengthAdjust="spacingAndGlyphs" stroke="#000" stroke-width="0.3" stroke-linejoin="round">V</text>
<text class="f-serif" x="1209.5" y="262.6" font-size="26" font-weight="normal" font-style="italic" textLength="75.5" lengthAdjust="spacingAndGlyphs" letter-spacing="1.57" stroke="#000" stroke-width="0.3">array</text>
<text class="f-serif" x="1295.8" y="258.9" font-size="40" font-weight="normal" textLength="27.4" lengthAdjust="spacingAndGlyphs" stroke="#000" stroke-width="0.3">=</text>
<text class="f-serif" x="1333.9" y="255.2" font-size="34.5" font-weight="normal" font-style="italic" textLength="10.5" lengthAdjust="spacingAndGlyphs" stroke="#000" stroke-width="0.3" stroke-linejoin="round">I</text>
<text class="f-serif" x="1345.3" y="262.6" font-size="26" font-weight="normal" font-style="italic" textLength="76.1" lengthAdjust="spacingAndGlyphs" letter-spacing="1.68" stroke="#000" stroke-width="0.3">array</text>
<text class="f-serif" x="1429.2" y="261.0" font-size="45.73" font-weight="normal" stroke="#000" stroke-width="0.2">×</text>
<text class="f-serif" x="1464.5" y="255.2" font-size="34.5" font-weight="normal" font-style="italic" textLength="17.7" lengthAdjust="spacingAndGlyphs" stroke="#000" stroke-width="0.3" stroke-linejoin="round">R</text>
<text class="f-serif" x="1485.5" y="262.6" font-size="26" font-weight="normal" font-style="italic" textLength="60.1" lengthAdjust="spacingAndGlyphs" stroke="#000" stroke-width="0.3">Load</text>
<text class="f-sans" x="1151.2" y="352.0" font-size="31" font-weight="normal" font-style="italic" textLength="28.0" lengthAdjust="spacingAndGlyphs">3.</text>
<text class="f-serif" x="1196.3" y="352.0" font-size="34.5" font-weight="normal" font-style="italic" textLength="25.2" lengthAdjust="spacingAndGlyphs" stroke="#000" stroke-width="0.3" stroke-linejoin="round">w</text>
<text class="f-serif" x="1224.1" y="338.2" font-size="22.5" font-weight="normal" textLength="13.7" lengthAdjust="spacingAndGlyphs" stroke="#000" stroke-width="0.3" stroke-linejoin="round">0</text>
<text class="f-serif" x="1221.1" y="360.2" font-size="26" font-weight="normal" font-style="italic" textLength="24.8" lengthAdjust="spacingAndGlyphs" letter-spacing="3.55" stroke="#000" stroke-width="0.3">ij</text>
<text class="f-serif" x="1252.5" y="355.7" font-size="40" font-weight="normal" textLength="27.5" lengthAdjust="spacingAndGlyphs" stroke="#000" stroke-width="0.3">=</text>
<text class="f-serif" x="1290.5" y="352.0" font-size="34.5" font-weight="normal" font-style="italic" textLength="25.9" lengthAdjust="spacingAndGlyphs" stroke="#000" stroke-width="0.3" stroke-linejoin="round">w</text>
<text class="f-serif" x="1315.5" y="360.2" font-size="26" font-weight="normal" font-style="italic" textLength="24.8" lengthAdjust="spacingAndGlyphs" letter-spacing="3.55" stroke="#000" stroke-width="0.3">ij</text>
<text class="f-serif" x="1345.3" y="355.7" font-size="40" font-weight="normal" textLength="25.2" lengthAdjust="spacingAndGlyphs" stroke="#000" stroke-width="0.3">−</text>
<text class="f-serif" x="1381.5" y="352.0" font-size="34.5" font-weight="normal" font-style="italic" textLength="23.9" lengthAdjust="spacingAndGlyphs" stroke="#000" stroke-width="0.3" stroke-linejoin="round">w</text>
<text class="f-serif" x="1405.6" y="360.2" font-size="26" font-weight="normal" font-style="italic" textLength="66.5" lengthAdjust="spacingAndGlyphs" letter-spacing="2.60" stroke="#000" stroke-width="0.3">shift</text>
<text class="f-sans" x="1151.8" y="422.6" font-size="31" font-weight="normal" font-style="italic" textLength="27.3" lengthAdjust="spacingAndGlyphs">4.</text>
<text class="f-serif" x="1195.6" y="422.6" font-size="34.5" font-weight="normal" font-style="italic" textLength="18.8" lengthAdjust="spacingAndGlyphs" stroke="#000" stroke-width="0.3" stroke-linejoin="round">V</text>
<text class="f-serif" x="1213.1" y="430.0" font-size="26" font-weight="normal" font-style="italic" textLength="89.2" lengthAdjust="spacingAndGlyphs" letter-spacing="1.86" stroke="#000" stroke-width="0.3">output</text>
<text class="f-serif" x="1310.3" y="426.3" font-size="40" font-weight="normal" textLength="28.0" lengthAdjust="spacingAndGlyphs" stroke="#000" stroke-width="0.3">=</text>
<text class="f-serif" x="1349.6" y="422.6" font-size="34.5" font-weight="normal" font-style="italic" textLength="10.5" lengthAdjust="spacingAndGlyphs" stroke="#000" stroke-width="0.3" stroke-linejoin="round">I</text>
<text class="f-serif" x="1360.3" y="430.0" font-size="26" font-weight="normal" font-style="italic" textLength="87.4" lengthAdjust="spacingAndGlyphs" letter-spacing="1.60" stroke="#000" stroke-width="0.3">output</text>
<text class="f-serif" x="1456.0" y="428.9" font-size="47.2" font-weight="normal" stroke="#000" stroke-width="0.2">×</text>
<text class="f-serif" x="1491.7" y="422.6" font-size="34.5" font-weight="normal" font-style="italic" textLength="19.3" lengthAdjust="spacingAndGlyphs" stroke="#000" stroke-width="0.3" stroke-linejoin="round">R</text>
<text class="f-serif" x="1512.5" y="430.0" font-size="26" font-weight="normal" font-style="italic" textLength="59.3" lengthAdjust="spacingAndGlyphs" stroke="#000" stroke-width="0.3">Load</text>
<text class="f-sans" x="1150.4" y="496.0" font-size="31" font-weight="normal" font-style="italic" textLength="29.3" lengthAdjust="spacingAndGlyphs">5.</text>
<text class="f-serif" x="1196.7" y="496.0" font-size="34.5" font-weight="normal" font-style="italic" textLength="9.7" lengthAdjust="spacingAndGlyphs" stroke="#000" stroke-width="0.3" stroke-linejoin="round">I</text>
<text class="f-serif" x="1207.3" y="503.4" font-size="26" font-weight="normal" font-style="italic" textLength="89.1" lengthAdjust="spacingAndGlyphs" letter-spacing="1.84" stroke="#000" stroke-width="0.3">output</text>
<text class="f-serif" x="1304.7" y="499.7" font-size="40" font-weight="normal" textLength="27.3" lengthAdjust="spacingAndGlyphs" stroke="#000" stroke-width="0.3">=</text>
<text class="f-serif" x="1340.3" y="494.0" font-size="37.78" font-weight="normal" stroke="#000" stroke-width="0.3">∑</text>
<text class="f-serif" x="1369.4" y="482.2" font-size="22.5" font-weight="normal" font-style="italic" textLength="15.2" lengthAdjust="spacingAndGlyphs" stroke="#000" stroke-width="0.3" stroke-linejoin="round">N</text>
<text class="f-serif" x="1367.4" y="503.4" font-size="26" font-weight="normal" font-style="italic" textLength="8.3" lengthAdjust="spacingAndGlyphs" stroke="#000" stroke-width="0.3">i</text>
<text class="f-serif" x="1376.3" y="503.4" font-size="26" font-weight="normal" textLength="34.5" lengthAdjust="spacingAndGlyphs" stroke="#000" stroke-width="0.3">=1</text>
<text class="f-serif" x="1411.2" y="496.3" font-size="35.3" font-weight="normal" textLength="14.3" lengthAdjust="spacingAndGlyphs" stroke="#000" stroke-width="0.2" stroke-linejoin="round">(</text>
<text class="f-serif" x="1425.3" y="496.0" font-size="34.5" font-weight="normal" font-style="italic" textLength="16.4" lengthAdjust="spacingAndGlyphs" stroke="#000" stroke-width="0.3" stroke-linejoin="round">V</text>
<text class="f-serif" x="1441.5" y="503.4" font-size="26" font-weight="normal" font-style="italic" textLength="9.3" lengthAdjust="spacingAndGlyphs" stroke="#000" stroke-width="0.3">i</text>
<text class="f-serif" x="1460.4" y="502.5" font-size="47.94" font-weight="normal" stroke="#000" stroke-width="0.2">×</text>
<text class="f-serif" x="1495.6" y="496.0" font-size="34.5" font-weight="normal" font-style="italic" textLength="24.0" lengthAdjust="spacingAndGlyphs" stroke="#000" stroke-width="0.3" stroke-linejoin="round">w</text>
<text class="f-serif" x="1522.8" y="482.2" font-size="22.5" font-weight="normal" textLength="13.1" lengthAdjust="spacingAndGlyphs" stroke="#000" stroke-width="0.3" stroke-linejoin="round">0</text>
<text class="f-serif" x="1519.2" y="503.4" font-size="26" font-weight="normal" font-style="italic" textLength="24.4" lengthAdjust="spacingAndGlyphs" letter-spacing="3.37" stroke="#000" stroke-width="0.3">ij</text>
<text class="f-serif" x="1542.8" y="496.3" font-size="35.3" font-weight="normal" textLength="15.0" lengthAdjust="spacingAndGlyphs" stroke="#000" stroke-width="0.2" stroke-linejoin="round">)</text>
<text class="f-serif" x="1565.3" y="499.7" font-size="40" font-weight="normal" textLength="26.9" lengthAdjust="spacingAndGlyphs" stroke="#000" stroke-width="0.3">=</text>
<text class="f-serif" x="1600.8" y="494.1" font-size="38.12" font-weight="normal" stroke="#000" stroke-width="0.3">∑</text>
<text class="f-serif" x="1630.1" y="482.2" font-size="22.5" font-weight="normal" font-style="italic" textLength="15.2" lengthAdjust="spacingAndGlyphs" stroke="#000" stroke-width="0.3" stroke-linejoin="round">N</text>
<text class="f-serif" x="1628.1" y="503.4" font-size="26" font-weight="normal" font-style="italic" textLength="8.3" lengthAdjust="spacingAndGlyphs" stroke="#000" stroke-width="0.3">i</text>
<text class="f-serif" x="1637.0" y="503.4" font-size="26" font-weight="normal" textLength="34.5" lengthAdjust="spacingAndGlyphs" stroke="#000" stroke-width="0.3">=1</text>
<text class="f-serif" x="1670.2" y="496.3" font-size="35.3" font-weight="normal" textLength="15.1" lengthAdjust="spacingAndGlyphs" stroke="#000" stroke-width="0.2" stroke-linejoin="round">{</text>
<text class="f-serif" x="1683.6" y="496.0" font-size="34.5" font-weight="normal" font-style="italic" textLength="18.0" lengthAdjust="spacingAndGlyphs" stroke="#000" stroke-width="0.3" stroke-linejoin="round">V</text>
<text class="f-serif" x="1701.2" y="503.4" font-size="26" font-weight="normal" font-style="italic" textLength="9.8" lengthAdjust="spacingAndGlyphs" stroke="#000" stroke-width="0.3">i</text>
<text class="f-serif" x="1720.0" y="502.5" font-size="47.94" font-weight="normal" stroke="#000" stroke-width="0.2">×</text>
<text class="f-serif" x="1754.8" y="496.6" font-size="46" font-weight="normal" textLength="15.6" lengthAdjust="spacingAndGlyphs" stroke="#000" stroke-width="0.2" stroke-linejoin="round">(</text>
<text class="f-serif" x="1770.7" y="496.0" font-size="34.5" font-weight="normal" font-style="italic" textLength="24.0" lengthAdjust="spacingAndGlyphs" stroke="#000" stroke-width="0.3" stroke-linejoin="round">w</text>
<text class="f-serif" x="1794.3" y="503.4" font-size="26" font-weight="normal" font-style="italic" textLength="25.2" lengthAdjust="spacingAndGlyphs" letter-spacing="3.72" stroke="#000" stroke-width="0.3">ij</text>
<text class="f-serif" x="1825.6" y="499.7" font-size="40" font-weight="normal" textLength="25.5" lengthAdjust="spacingAndGlyphs" stroke="#000" stroke-width="0.3">−</text>
<text class="f-serif" x="1860.3" y="496.0" font-size="34.5" font-weight="normal" font-style="italic" textLength="24.0" lengthAdjust="spacingAndGlyphs" stroke="#000" stroke-width="0.3" stroke-linejoin="round">w</text>
<text class="f-serif" x="1884.8" y="503.4" font-size="26" font-weight="normal" font-style="italic" textLength="66.7" lengthAdjust="spacingAndGlyphs" letter-spacing="2.64" stroke="#000" stroke-width="0.3">shift</text>
<text class="f-serif" x="1950.6" y="496.6" font-size="46" font-weight="normal" textLength="15.8" lengthAdjust="spacingAndGlyphs" stroke="#000" stroke-width="0.2" stroke-linejoin="round">)</text>
<text class="f-serif" x="1964.5" y="496.3" font-size="35.3" font-weight="normal" textLength="16.6" lengthAdjust="spacingAndGlyphs" stroke="#000" stroke-width="0.2" stroke-linejoin="round">}</text>
<text class="f-serif" x="1273.7" y="570.6" font-size="40" font-weight="normal" textLength="26.8" lengthAdjust="spacingAndGlyphs" stroke="#000" stroke-width="0.3">=</text>
<text class="f-serif" x="1312.2" y="566.9" font-size="34.5" font-weight="normal" font-style="italic" textLength="10.2" lengthAdjust="spacingAndGlyphs" stroke="#000" stroke-width="0.3" stroke-linejoin="round">I</text>
<text class="f-serif" x="1323.7" y="574.3" font-size="26" font-weight="normal" font-style="italic" textLength="74.6" lengthAdjust="spacingAndGlyphs" letter-spacing="1.42" stroke="#000" stroke-width="0.3">array</text>
<text class="f-serif" x="1407.7" y="570.6" font-size="40" font-weight="normal" textLength="26.1" lengthAdjust="spacingAndGlyphs" stroke="#000" stroke-width="0.3">−</text>
<text class="f-serif" x="1442.8" y="566.9" font-size="34.5" font-weight="normal" font-style="italic" textLength="10.2" lengthAdjust="spacingAndGlyphs" stroke="#000" stroke-width="0.3" stroke-linejoin="round">I</text>
<text class="f-serif" x="1454.2" y="574.3" font-size="26" font-weight="normal" font-style="italic" textLength="64.7" lengthAdjust="spacingAndGlyphs" letter-spacing="2.30" stroke="#000" stroke-width="0.3">shift</text>
<text class="f-sans" x="1150.7" y="638.5" font-size="31" font-weight="normal" font-style="italic" textLength="28.9" lengthAdjust="spacingAndGlyphs">6.</text>
<text class="f-serif" x="1194.7" y="638.5" font-size="34.5" font-weight="normal" font-style="italic" textLength="19.6" lengthAdjust="spacingAndGlyphs" stroke="#000" stroke-width="0.3" stroke-linejoin="round">V</text>
<text class="f-serif" x="1213.2" y="645.9" font-size="26" font-weight="normal" font-style="italic" textLength="88.7" lengthAdjust="spacingAndGlyphs" letter-spacing="1.79" stroke="#000" stroke-width="0.3">output</text>
<text class="f-serif" x="1311.1" y="642.2" font-size="40" font-weight="normal" textLength="27.5" lengthAdjust="spacingAndGlyphs" stroke="#000" stroke-width="0.3">=</text>
<text class="f-serif" x="1348.5" y="639.1" font-size="46" font-weight="normal" textLength="15.7" lengthAdjust="spacingAndGlyphs" stroke="#000" stroke-width="0.2" stroke-linejoin="round">(</text>
<text class="f-serif" x="1365.9" y="638.5" font-size="34.5" font-weight="normal" font-style="italic" textLength="10.8" lengthAdjust="spacingAndGlyphs" stroke="#000" stroke-width="0.3" stroke-linejoin="round">I</text>
<text class="f-serif" x="1377.5" y="645.9" font-size="26" font-weight="normal" font-style="italic" textLength="74.7" lengthAdjust="spacingAndGlyphs" letter-spacing="1.44" stroke="#000" stroke-width="0.3">array</text>
<text class="f-serif" x="1459.7" y="642.2" font-size="40" font-weight="normal" textLength="25.7" lengthAdjust="spacingAndGlyphs" stroke="#000" stroke-width="0.3">−</text>
<text class="f-serif" x="1496.1" y="638.5" font-size="34.5" font-weight="normal" font-style="italic" textLength="9.9" lengthAdjust="spacingAndGlyphs" stroke="#000" stroke-width="0.3" stroke-linejoin="round">I</text>
<text class="f-serif" x="1507.2" y="645.9" font-size="26" font-weight="normal" font-style="italic" textLength="65.0" lengthAdjust="spacingAndGlyphs" letter-spacing="2.34" stroke="#000" stroke-width="0.3">shift</text>
<text class="f-serif" x="1571.9" y="639.1" font-size="46" font-weight="normal" textLength="15.7" lengthAdjust="spacingAndGlyphs" stroke="#000" stroke-width="0.2" stroke-linejoin="round">)</text>
<text class="f-serif" x="1594.8" y="644.6" font-size="46.71" font-weight="normal" stroke="#000" stroke-width="0.2">×</text>
<text class="f-serif" x="1629.8" y="638.5" font-size="34.5" font-weight="normal" font-style="italic" textLength="20.4" lengthAdjust="spacingAndGlyphs" stroke="#000" stroke-width="0.3" stroke-linejoin="round">R</text>
<text class="f-serif" x="1651.9" y="645.9" font-size="26" font-weight="normal" font-style="italic" textLength="59.0" lengthAdjust="spacingAndGlyphs" stroke="#000" stroke-width="0.3">Load</text>
<text class="f-serif" x="1274.0" y="710.1" font-size="40" font-weight="normal" textLength="26.7" lengthAdjust="spacingAndGlyphs" stroke="#000" stroke-width="0.3">=</text>
<text class="f-serif" x="1309.6" y="706.4" font-size="34.5" font-weight="normal" font-style="italic" textLength="19.4" lengthAdjust="spacingAndGlyphs" stroke="#000" stroke-width="0.3" stroke-linejoin="round">V</text>
<text class="f-serif" x="1324.9" y="713.8" font-size="26" font-weight="normal" font-style="italic" textLength="74.7" lengthAdjust="spacingAndGlyphs" letter-spacing="1.44" stroke="#000" stroke-width="0.3">array</text>
<text class="f-serif" x="1408.3" y="710.1" font-size="40" font-weight="normal" textLength="26.8" lengthAdjust="spacingAndGlyphs" stroke="#000" stroke-width="0.3">−</text>
<text class="f-serif" x="1442.4" y="706.4" font-size="34.5" font-weight="normal" font-style="italic" textLength="19.4" lengthAdjust="spacingAndGlyphs" stroke="#000" stroke-width="0.3" stroke-linejoin="round">V</text>
<text class="f-serif" x="1461.9" y="713.8" font-size="26" font-weight="normal" font-style="italic" textLength="65.7" lengthAdjust="spacingAndGlyphs" letter-spacing="2.47" stroke="#000" stroke-width="0.3">shift</text>
<text class="f-serif" x="1173.1" y="772.0" font-size="29" font-weight="bold" font-style="italic" textLength="9.1" lengthAdjust="spacingAndGlyphs" stroke="#000" stroke-width="0.2" stroke-linejoin="round">I</text>
<text class="f-serif" x="1184.7" y="776.5" font-size="22.5" font-weight="bold" font-style="italic" textLength="57.6" lengthAdjust="spacingAndGlyphs" letter-spacing="0.48">array</text>
<text class="f-sans" x="1250.8" y="771.5" font-size="25" font-weight="bold" textLength="9.9" lengthAdjust="spacingAndGlyphs">:</text>
<text class="f-sans" x="1264.8" y="772.0" font-size="25.8" font-weight="normal" fill="#111" textLength="98.6" lengthAdjust="spacingAndGlyphs" stroke="#111" stroke-width="0.25" stroke-linejoin="round">Summed</text>
<text class="f-sans" x="1373.0" y="772.0" font-size="25.8" font-weight="normal" fill="#111" textLength="74.5" lengthAdjust="spacingAndGlyphs" stroke="#111" stroke-width="0.25" stroke-linejoin="round">output</text>
<text class="f-sans" x="1457.2" y="772.0" font-size="25.8" font-weight="normal" fill="#111" textLength="83.4" lengthAdjust="spacingAndGlyphs" stroke="#111" stroke-width="0.25" stroke-linejoin="round">current</text>
<text class="f-sans" x="1547.5" y="772.0" font-size="25.8" font-weight="normal" fill="#111" textLength="89.9" lengthAdjust="spacingAndGlyphs" stroke="#111" stroke-width="0.25" stroke-linejoin="round">through</text>
<text class="f-sans" x="1644.5" y="772.0" font-size="25.8" font-weight="normal" fill="#111" textLength="52.7" lengthAdjust="spacingAndGlyphs" stroke="#111" stroke-width="0.25" stroke-linejoin="round">each</text>
<text class="f-sans" x="1704.7" y="772.0" font-size="25.8" font-weight="normal" fill="#111" textLength="83.5" lengthAdjust="spacingAndGlyphs" stroke="#111" stroke-width="0.25" stroke-linejoin="round">column</text>
<text class="f-serif" x="1171.7" y="816.6" font-size="29" font-weight="bold" font-style="italic" textLength="15.8" lengthAdjust="spacingAndGlyphs" stroke="#000" stroke-width="0.5" stroke-linejoin="round">V</text>
<text class="f-serif" x="1190.0" y="821.1" font-size="22.5" font-weight="bold" font-style="italic" textLength="6.7" lengthAdjust="spacingAndGlyphs">i</text>
<text class="f-sans" x="1204.2" y="816.1" font-size="25" font-weight="bold" textLength="9.9" lengthAdjust="spacingAndGlyphs">:</text>
<text class="f-sans" x="1218.2" y="816.6" font-size="25.8" font-weight="normal" fill="#111" textLength="64.4" lengthAdjust="spacingAndGlyphs" stroke="#111" stroke-width="0.25" stroke-linejoin="round">Input</text>
<text class="f-sans" x="1291.5" y="816.6" font-size="25.8" font-weight="normal" fill="#111" textLength="77.8" lengthAdjust="spacingAndGlyphs" stroke="#111" stroke-width="0.25" stroke-linejoin="round">voltage</text>
<text class="f-serif" x="1172.9" y="860.3" font-size="29" font-weight="bold" font-style="italic" textLength="18.4" lengthAdjust="spacingAndGlyphs" stroke="#000" stroke-width="0.2" stroke-linejoin="round">R</text>
<text class="f-serif" x="1192.8" y="864.8" font-size="22.5" font-weight="bold" font-style="italic" textLength="45.7" lengthAdjust="spacingAndGlyphs">Load</text>
<text class="f-sans" x="1247.1" y="859.8" font-size="25" font-weight="bold" textLength="10.4" lengthAdjust="spacingAndGlyphs">:</text>
<text class="f-sans" x="1261.7" y="860.3" font-size="25.8" font-weight="normal" fill="#111" textLength="52.2" lengthAdjust="spacingAndGlyphs" stroke="#111" stroke-width="0.25" stroke-linejoin="round">Load</text>
<text class="f-sans" x="1323.4" y="860.3" font-size="25.8" font-weight="normal" fill="#111" textLength="84.3" lengthAdjust="spacingAndGlyphs" stroke="#111" stroke-width="0.25" stroke-linejoin="round">resistor</text>
<text class="f-serif" x="1172.9" y="903.5" font-size="29" font-weight="bold" font-style="italic" textLength="18.5" lengthAdjust="spacingAndGlyphs" stroke="#000" stroke-width="0.2" stroke-linejoin="round">w</text>
<text class="f-serif" x="1195.2" y="892.5" font-size="17" font-weight="bold" textLength="10.9" lengthAdjust="spacingAndGlyphs">0</text>
<text class="f-serif" x="1194.4" y="910.0" font-size="22.5" font-weight="bold" font-style="italic" textLength="13.5" lengthAdjust="spacingAndGlyphs">ij</text>
<text class="f-sans" x="1215.4" y="903.0" font-size="25" font-weight="bold" textLength="10.7" lengthAdjust="spacingAndGlyphs">:</text>
<text class="f-sans" x="1230.1" y="903.5" font-size="25.6" font-weight="normal" fill="#111" textLength="109.0" lengthAdjust="spacingAndGlyphs" stroke="#111" stroke-width="0.25" stroke-linejoin="round">Required</text>
<text class="f-sans" x="1352.3" y="903.5" font-size="25.6" font-weight="normal" fill="#111" textLength="154.8" lengthAdjust="spacingAndGlyphs" stroke="#111" stroke-width="0.25" stroke-linejoin="round">conductance</text>
<text class="f-sans" x="1518.7" y="903.5" font-size="25.6" font-weight="normal" fill="#111" textLength="101.8" lengthAdjust="spacingAndGlyphs" stroke="#111" stroke-width="0.25" stroke-linejoin="round">(positive</text>
<text class="f-sans" x="1632.0" y="903.5" font-size="25.6" font-weight="normal" fill="#111" textLength="17.9" lengthAdjust="spacingAndGlyphs" stroke="#111" stroke-width="0.25" stroke-linejoin="round">&amp;</text>
<text class="f-sans" x="1658.0" y="903.5" font-size="25.6" font-weight="normal" fill="#111" textLength="102.0" lengthAdjust="spacingAndGlyphs" stroke="#111" stroke-width="0.25" stroke-linejoin="round">negative</text>
<text class="f-sans" x="1773.6" y="903.5" font-size="25.6" font-weight="normal" fill="#111" textLength="70.4" lengthAdjust="spacingAndGlyphs" stroke="#111" stroke-width="0.25" stroke-linejoin="round">value)</text>
<text class="f-serif" x="1172.9" y="946.5" font-size="29" font-weight="bold" font-style="italic" textLength="18.5" lengthAdjust="spacingAndGlyphs" stroke="#000" stroke-width="0.2" stroke-linejoin="round">w</text>
<text class="f-serif" x="1194.4" y="951.0" font-size="22.5" font-weight="bold" font-style="italic" textLength="13.5" lengthAdjust="spacingAndGlyphs">ij</text>
<text class="f-sans" x="1215.4" y="946.0" font-size="25" font-weight="bold" textLength="10.7" lengthAdjust="spacingAndGlyphs">:</text>
<text class="f-sans" x="1230.1" y="946.5" font-size="25.6" font-weight="normal" fill="#111" textLength="55.5" lengthAdjust="spacingAndGlyphs" stroke="#111" stroke-width="0.25" stroke-linejoin="round">Real</text>
<text class="f-sans" x="1296.3" y="946.5" font-size="25.6" font-weight="normal" fill="#111" textLength="155.5" lengthAdjust="spacingAndGlyphs" stroke="#111" stroke-width="0.25" stroke-linejoin="round">conductance</text>
<text class="f-sans" x="1462.3" y="946.5" font-size="25.6" font-weight="normal" fill="#111" textLength="22.1" lengthAdjust="spacingAndGlyphs" stroke="#111" stroke-width="0.25" stroke-linejoin="round">of</text>
<text class="f-sans" x="1494.6" y="946.5" font-size="25.6" font-weight="normal" fill="#111" textLength="100.5" lengthAdjust="spacingAndGlyphs" stroke="#111" stroke-width="0.25" stroke-linejoin="round">synapse</text>
<text class="f-sans" x="1606.6" y="946.5" font-size="25.6" font-weight="normal" fill="#111" textLength="77.7" lengthAdjust="spacingAndGlyphs" stroke="#111" stroke-width="0.25" stroke-linejoin="round">device</text>
<text class="f-sans" x="1695.9" y="946.5" font-size="25.6" font-weight="normal" fill="#111" textLength="58.1" lengthAdjust="spacingAndGlyphs" stroke="#111" stroke-width="0.25" stroke-linejoin="round">(only</text>
<text class="f-sans" x="1763.6" y="946.5" font-size="25.6" font-weight="normal" fill="#111" textLength="92.8" lengthAdjust="spacingAndGlyphs" stroke="#111" stroke-width="0.25" stroke-linejoin="round">positive</text>
<text class="f-sans" x="1868.9" y="946.5" font-size="25.6" font-weight="normal" fill="#111" textLength="71.4" lengthAdjust="spacingAndGlyphs" stroke="#111" stroke-width="0.25" stroke-linejoin="round">value)</text>
<text class="f-serif" x="1172.9" y="990.5" font-size="29" font-weight="bold" font-style="italic" textLength="18.5" lengthAdjust="spacingAndGlyphs" stroke="#000" stroke-width="0.2" stroke-linejoin="round">w</text>
<text class="f-serif" x="1195.1" y="995.0" font-size="22.5" font-weight="bold" font-style="italic" textLength="48.0" lengthAdjust="spacingAndGlyphs" letter-spacing="0.47">shift</text>
<text class="f-sans" x="1252.0" y="990.0" font-size="25" font-weight="bold" textLength="9.9" lengthAdjust="spacingAndGlyphs">:</text>
<text class="f-sans" x="1266.0" y="990.5" font-size="25.8" font-weight="normal" fill="#111" textLength="146.2" lengthAdjust="spacingAndGlyphs" stroke="#111" stroke-width="0.25" stroke-linejoin="round">Conductance</text>
<text class="f-sans" x="1421.5" y="990.5" font-size="25.8" font-weight="normal" fill="#111" textLength="23.5" lengthAdjust="spacingAndGlyphs" stroke="#111" stroke-width="0.25" stroke-linejoin="round">to</text>
<text class="f-sans" x="1451.6" y="990.5" font-size="25.8" font-weight="normal" fill="#111" textLength="29.0" lengthAdjust="spacingAndGlyphs" stroke="#111" stroke-width="0.25" stroke-linejoin="round">be</text>
<text class="f-sans" x="1486.5" y="990.5" font-size="25.8" font-weight="normal" fill="#111" textLength="77.7" lengthAdjust="spacingAndGlyphs" stroke="#111" stroke-width="0.25" stroke-linejoin="round">shifted</text>
<text class="f-serif" x="1171.7" y="1035.0" font-size="29" font-weight="bold" font-style="italic" textLength="15.8" lengthAdjust="spacingAndGlyphs" stroke="#000" stroke-width="0.5" stroke-linejoin="round">V</text>
<text class="f-serif" x="1190.8" y="1039.5" font-size="22.5" font-weight="bold" font-style="italic" textLength="65.6" lengthAdjust="spacingAndGlyphs">output</text>
<text class="f-sans" x="1264.7" y="1034.5" font-size="25" font-weight="bold" textLength="10.4" lengthAdjust="spacingAndGlyphs">:</text>
<text class="f-sans" x="1279.1" y="1035.0" font-size="25.8" font-weight="normal" fill="#111" textLength="101.4" lengthAdjust="spacingAndGlyphs" stroke="#111" stroke-width="0.25" stroke-linejoin="round">Required</text>
<text class="f-sans" x="1390.0" y="1035.0" font-size="25.8" font-weight="normal" fill="#111" textLength="48.9" lengthAdjust="spacingAndGlyphs" stroke="#111" stroke-width="0.25" stroke-linejoin="round">final</text>
<text class="f-sans" x="1444.6" y="1035.0" font-size="25.8" font-weight="normal" fill="#111" textLength="74.8" lengthAdjust="spacingAndGlyphs" stroke="#111" stroke-width="0.25" stroke-linejoin="round">output</text>
<text class="f-sans" x="1529.9" y="1035.0" font-size="25.8" font-weight="normal" fill="#111" textLength="82.0" lengthAdjust="spacingAndGlyphs" stroke="#111" stroke-width="0.25" stroke-linejoin="round">voltage</text>
<text class="f-sans" x="1616.1" y="1035.0" font-size="25.8" font-weight="normal" fill="#111" textLength="20.6" lengthAdjust="spacingAndGlyphs" stroke="#111" stroke-width="0.25" stroke-linejoin="round">at</text>
<text class="f-sans" x="1646.9" y="1035.0" font-size="25.8" font-weight="normal" fill="#111" textLength="51.4" lengthAdjust="spacingAndGlyphs" stroke="#111" stroke-width="0.25" stroke-linejoin="round">each</text>
<text class="f-sans" x="1706.5" y="1035.0" font-size="25.8" font-weight="normal" fill="#111" textLength="84.6" lengthAdjust="spacingAndGlyphs" stroke="#111" stroke-width="0.25" stroke-linejoin="round">column</text>
<text class="f-serif" x="1171.7" y="1078.5" font-size="29" font-weight="bold" font-style="italic" textLength="15.8" lengthAdjust="spacingAndGlyphs" stroke="#000" stroke-width="0.5" stroke-linejoin="round">V</text>
<text class="f-serif" x="1191.3" y="1083.0" font-size="22.5" font-weight="bold" font-style="italic" textLength="47.1" lengthAdjust="spacingAndGlyphs" letter-spacing="0.31">shift</text>
<text class="f-sans" x="1248.2" y="1078.0" font-size="25" font-weight="bold" textLength="9.9" lengthAdjust="spacingAndGlyphs">:</text>
<text class="f-sans" x="1263.3" y="1078.5" font-size="25.8" font-weight="normal" fill="#111" textLength="84.5" lengthAdjust="spacingAndGlyphs" stroke="#111" stroke-width="0.25" stroke-linejoin="round">Voltage</text>
<text class="f-sans" x="1354.8" y="1078.5" font-size="25.8" font-weight="normal" fill="#111" textLength="53.5" lengthAdjust="spacingAndGlyphs" stroke="#111" stroke-width="0.25" stroke-linejoin="round">from</text>
<text class="f-sans" x="1416.9" y="1078.5" font-size="25.8" font-weight="normal" fill="#111" textLength="75.4" lengthAdjust="spacingAndGlyphs" stroke="#111" stroke-width="0.25" stroke-linejoin="round">weight</text>
<text class="f-sans" x="1500.4" y="1078.5" font-size="25.8" font-weight="normal" fill="#111" textLength="71.3" lengthAdjust="spacingAndGlyphs" stroke="#111" stroke-width="0.25" stroke-linejoin="round">shifter</text>
</g>
<g id="panel-c">
<text class="f-sans" x="36.9" y="1122.7" font-size="55.5" font-weight="bold" textLength="68.8" lengthAdjust="spacingAndGlyphs" stroke="#000" stroke-width="0.35" stroke-linejoin="round">(c)</text>
<clipPath id="clipc"><rect x="135" y="1147.5" width="841.5" height="621"/></clipPath>
<line x1="159.6" y1="1320.7" x2="737.3" y2="1320.7" stroke="#000" stroke-width="2.6" stroke-dasharray="3.4 6.75"/>
<line x1="154.2" y1="1543.1" x2="737.3" y2="1543.1" stroke="#000" stroke-width="2.6" stroke-dasharray="3.4 6.75"/>
<line x1="737.3" y1="1341.5" x2="737.3" y2="1754.0" stroke="#000" stroke-width="2.6" stroke-dasharray="3.4 6.75"/>
<rect x="137.6" y="1150" width="836.2" height="615.8" fill="none" stroke="#000" stroke-width="5.4"/>
<text class="f-sans" x="84.9" y="1776.6" font-size="28" font-weight="bold" textLength="31.1" lengthAdjust="spacingAndGlyphs" stroke="#000" stroke-width="0.35" stroke-linejoin="round">10</text>
<text class="f-sans" x="116.1" y="1761.0" font-size="17" font-weight="bold" textLength="9.5" lengthAdjust="spacingAndGlyphs" stroke="#000" stroke-width="0.3" stroke-linejoin="round">0</text>
<line x1="139.0" y1="1691.4" x2="149.2" y2="1691.4" stroke="#000" stroke-width="5"/>
<text class="f-sans" x="84.9" y="1702.4" font-size="28" font-weight="bold" textLength="31.1" lengthAdjust="spacingAndGlyphs" stroke="#000" stroke-width="0.35" stroke-linejoin="round">10</text>
<text class="f-sans" x="115.7" y="1686.8" font-size="17" font-weight="bold" textLength="9.7" lengthAdjust="spacingAndGlyphs" stroke="#000" stroke-width="0.3" stroke-linejoin="round">1</text>
<line x1="139.0" y1="1617.3" x2="149.2" y2="1617.3" stroke="#000" stroke-width="5"/>
<text class="f-sans" x="84.9" y="1628.3" font-size="28" font-weight="bold" textLength="31.1" lengthAdjust="spacingAndGlyphs" stroke="#000" stroke-width="0.35" stroke-linejoin="round">10</text>
<text class="f-sans" x="116.2" y="1612.7" font-size="17" font-weight="bold" textLength="9.4" lengthAdjust="spacingAndGlyphs" stroke="#000" stroke-width="0.3" stroke-linejoin="round">2</text>
<line x1="139.0" y1="1543.1" x2="149.2" y2="1543.1" stroke="#000" stroke-width="5"/>
<text class="f-sans" x="84.9" y="1554.1" font-size="28" font-weight="bold" textLength="31.1" lengthAdjust="spacingAndGlyphs" stroke="#000" stroke-width="0.35" stroke-linejoin="round">10</text>
<text class="f-sans" x="116.4" y="1538.5" font-size="17" font-weight="bold" textLength="9.1" lengthAdjust="spacingAndGlyphs" stroke="#000" stroke-width="0.3" stroke-linejoin="round">3</text>
<line x1="139.0" y1="1469.0" x2="149.2" y2="1469.0" stroke="#000" stroke-width="5"/>
<text class="f-sans" x="84.9" y="1480.0" font-size="28" font-weight="bold" textLength="31.1" lengthAdjust="spacingAndGlyphs" stroke="#000" stroke-width="0.35" stroke-linejoin="round">10</text>
<text class="f-sans" x="116.5" y="1464.4" font-size="17" font-weight="bold" textLength="8.4" lengthAdjust="spacingAndGlyphs" stroke="#000" stroke-width="0.3" stroke-linejoin="round">4</text>
<line x1="139.0" y1="1394.8" x2="149.2" y2="1394.8" stroke="#000" stroke-width="5"/>
<text class="f-sans" x="84.9" y="1405.8" font-size="28" font-weight="bold" textLength="31.1" lengthAdjust="spacingAndGlyphs" stroke="#000" stroke-width="0.35" stroke-linejoin="round">10</text>
<text class="f-sans" x="116.2" y="1390.2" font-size="17" font-weight="bold" textLength="9.1" lengthAdjust="spacingAndGlyphs" stroke="#000" stroke-width="0.3" stroke-linejoin="round">5</text>
<line x1="139.0" y1="1320.7" x2="149.2" y2="1320.7" stroke="#000" stroke-width="5"/>
<text class="f-sans" x="84.9" y="1331.7" font-size="28" font-weight="bold" textLength="31.1" lengthAdjust="spacingAndGlyphs" stroke="#000" stroke-width="0.35" stroke-linejoin="round">10</text>
<text class="f-sans" x="116.1" y="1316.1" font-size="17" font-weight="bold" textLength="9.3" lengthAdjust="spacingAndGlyphs" stroke="#000" stroke-width="0.3" stroke-linejoin="round">6</text>
<line x1="139.0" y1="1246.5" x2="149.2" y2="1246.5" stroke="#000" stroke-width="5"/>
<text class="f-sans" x="84.9" y="1257.5" font-size="28" font-weight="bold" textLength="31.1" lengthAdjust="spacingAndGlyphs" stroke="#000" stroke-width="0.35" stroke-linejoin="round">10</text>
<text class="f-sans" x="116.0" y="1241.9" font-size="17" font-weight="bold" textLength="9.6" lengthAdjust="spacingAndGlyphs" stroke="#000" stroke-width="0.3" stroke-linejoin="round">7</text>
<line x1="139.0" y1="1172.4" x2="149.2" y2="1172.4" stroke="#000" stroke-width="5"/>
<text class="f-sans" x="84.9" y="1183.4" font-size="28" font-weight="bold" textLength="31.1" lengthAdjust="spacingAndGlyphs" stroke="#000" stroke-width="0.35" stroke-linejoin="round">10</text>
<text class="f-sans" x="116.2" y="1167.8" font-size="17" font-weight="bold" textLength="9.1" lengthAdjust="spacingAndGlyphs" stroke="#000" stroke-width="0.3" stroke-linejoin="round">8</text>
<line x1="337.9" y1="1753.5" x2="337.9" y2="1765.0" stroke="#000" stroke-width="5"/>
<line x1="538.2" y1="1753.5" x2="538.2" y2="1765.0" stroke="#000" stroke-width="5"/>
<line x1="738.5" y1="1753.5" x2="738.5" y2="1765.0" stroke="#000" stroke-width="5"/>
<line x1="938.8" y1="1753.5" x2="938.8" y2="1765.0" stroke="#000" stroke-width="5"/>
<text class="f-sans" x="124.6" y="1801.0" font-size="28" font-weight="bold" textLength="41.9" lengthAdjust="spacingAndGlyphs" stroke="#000" stroke-width="0.35" stroke-linejoin="round">1x1</text>
<text class="f-sans" x="293.5" y="1801.0" font-size="28" font-weight="bold" textLength="76.1" lengthAdjust="spacingAndGlyphs" stroke="#000" stroke-width="0.35" stroke-linejoin="round">10x10</text>
<text class="f-sans" x="483.7" y="1801.0" font-size="28" font-weight="bold" textLength="109.9" lengthAdjust="spacingAndGlyphs" stroke="#000" stroke-width="0.35" stroke-linejoin="round">100x100</text>
<text class="f-sans" x="690.4" y="1801.0" font-size="28" font-weight="bold" textLength="102.2" lengthAdjust="spacingAndGlyphs" stroke="#000" stroke-width="0.35" stroke-linejoin="round">1K x 1K</text>
<text class="f-sans" x="873.7" y="1801.0" font-size="28" font-weight="bold" textLength="133.2" lengthAdjust="spacingAndGlyphs" stroke="#000" stroke-width="0.35" stroke-linejoin="round">10K x 10K</text>
<text class="f-sans" x="471.6" y="1856.6" font-size="36" font-weight="bold" textLength="168.2" lengthAdjust="spacingAndGlyphs" stroke="#000" stroke-width="0.35" stroke-linejoin="round">Array size</text>
<text class="f-sans" transform="translate(64.3,1659.8) rotate(-90)" x="-0.4" y="0" font-size="36.5" font-weight="bold" stroke="#000" stroke-width="0.35" stroke-linejoin="round" textLength="394.2" lengthAdjust="spacingAndGlyphs"># of additional devices</text>
<g clip-path="url(#clipc)">
<polyline fill="none" stroke="#000" stroke-width="5" stroke-linejoin="round" points="137.6,1765.6 337.9,1691.4 477.9,1639.6 538.2,1617.3 598.5,1595.0 633.8,1581.9 658.8,1572.7 678.2,1565.5 694.1,1559.6 707.5,1554.6 719.1,1550.3 729.3,1546.5 738.5,1543.1 798.8,1520.8 834.1,1507.8 859.1,1498.5 878.5,1491.3 894.4,1485.5 907.8,1480.5 919.4,1476.2 929.6,1472.4 938.8,1469.0"/>
<circle cx="137.6" cy="1765.6" r="12.5" fill="url(#gk)"/>
<circle cx="337.9" cy="1691.4" r="12.5" fill="url(#gk)"/>
<circle cx="477.9" cy="1639.6" r="12.5" fill="url(#gk)"/>
<circle cx="538.2" cy="1617.3" r="12.5" fill="url(#gk)"/>
<circle cx="598.5" cy="1595.0" r="12.5" fill="url(#gk)"/>
<circle cx="633.8" cy="1581.9" r="12.5" fill="url(#gk)"/>
<circle cx="658.8" cy="1572.7" r="12.5" fill="url(#gk)"/>
<circle cx="678.2" cy="1565.5" r="12.5" fill="url(#gk)"/>
<circle cx="694.1" cy="1559.6" r="12.5" fill="url(#gk)"/>
<circle cx="707.5" cy="1554.6" r="12.5" fill="url(#gk)"/>
<circle cx="719.1" cy="1550.3" r="12.5" fill="url(#gk)"/>
<circle cx="729.3" cy="1546.5" r="12.5" fill="url(#gk)"/>
<circle cx="738.5" cy="1543.1" r="12.5" fill="url(#gk)"/>
<circle cx="798.8" cy="1520.8" r="12.5" fill="url(#gk)"/>
<circle cx="834.1" cy="1507.8" r="12.5" fill="url(#gk)"/>
<circle cx="859.1" cy="1498.5" r="12.5" fill="url(#gk)"/>
<circle cx="878.5" cy="1491.3" r="12.5" fill="url(#gk)"/>
<circle cx="894.4" cy="1485.5" r="12.5" fill="url(#gk)"/>
<circle cx="907.8" cy="1480.5" r="12.5" fill="url(#gk)"/>
<circle cx="919.4" cy="1476.2" r="12.5" fill="url(#gk)"/>
<circle cx="929.6" cy="1472.4" r="12.5" fill="url(#gk)"/>
<circle cx="938.8" cy="1469.0" r="12.5" fill="url(#gk)"/>
</g>
<g clip-path="url(#clipc)">
<polyline fill="none" stroke="#ff0000" stroke-width="5" stroke-linejoin="round" points="137.6,1765.6 337.9,1617.3 477.9,1513.6 538.2,1469.0 598.5,1424.4 633.8,1398.2 658.8,1379.7 678.2,1365.3 694.1,1353.6 707.5,1343.7 719.1,1335.1 729.3,1327.5 738.5,1320.7 798.8,1276.1 834.1,1249.9 859.1,1231.4 878.5,1217.0 894.4,1205.3 907.8,1195.4 919.4,1186.8 929.6,1179.2 938.8,1172.4"/>
<circle cx="137.6" cy="1765.6" r="12.5" fill="url(#gr)"/>
<circle cx="337.9" cy="1617.3" r="12.5" fill="url(#gr)"/>
<circle cx="477.9" cy="1513.6" r="12.5" fill="url(#gr)"/>
<circle cx="538.2" cy="1469.0" r="12.5" fill="url(#gr)"/>
<circle cx="598.5" cy="1424.4" r="12.5" fill="url(#gr)"/>
<circle cx="633.8" cy="1398.2" r="12.5" fill="url(#gr)"/>
<circle cx="658.8" cy="1379.7" r="12.5" fill="url(#gr)"/>
<circle cx="678.2" cy="1365.3" r="12.5" fill="url(#gr)"/>
<circle cx="694.1" cy="1353.6" r="12.5" fill="url(#gr)"/>
<circle cx="707.5" cy="1343.7" r="12.5" fill="url(#gr)"/>
<circle cx="719.1" cy="1335.1" r="12.5" fill="url(#gr)"/>
<circle cx="729.3" cy="1327.5" r="12.5" fill="url(#gr)"/>
<circle cx="738.5" cy="1320.7" r="12.5" fill="url(#gr)"/>
<circle cx="798.8" cy="1276.1" r="12.5" fill="url(#gr)"/>
<circle cx="834.1" cy="1249.9" r="12.5" fill="url(#gr)"/>
<circle cx="859.1" cy="1231.4" r="12.5" fill="url(#gr)"/>
<circle cx="878.5" cy="1217.0" r="12.5" fill="url(#gr)"/>
<circle cx="894.4" cy="1205.3" r="12.5" fill="url(#gr)"/>
<circle cx="907.8" cy="1195.4" r="12.5" fill="url(#gr)"/>
<circle cx="919.4" cy="1186.8" r="12.5" fill="url(#gr)"/>
<circle cx="929.6" cy="1179.2" r="12.5" fill="url(#gr)"/>
<circle cx="938.8" cy="1172.4" r="12.5" fill="url(#gr)"/>
</g>
<line x1="137.6" y1="1147.3" x2="137.6" y2="1768.5" stroke="#000" stroke-width="5.4"/>
<line x1="134.9" y1="1765.8" x2="976.5" y2="1765.8" stroke="#000" stroke-width="5.4"/>
<line x1="337.9" y1="1753.5" x2="337.9" y2="1765.0" stroke="#000" stroke-width="5"/>
<line x1="538.2" y1="1753.5" x2="538.2" y2="1765.0" stroke="#000" stroke-width="5"/>
<line x1="738.5" y1="1753.5" x2="738.5" y2="1765.0" stroke="#000" stroke-width="5"/>
<line x1="938.8" y1="1753.5" x2="938.8" y2="1765.0" stroke="#000" stroke-width="5"/>
<path d="M140.3,1753 A12.5,12.5 0 0 1 150,1763.1 L140.3,1763.1 Z" fill="#ff0000"/>
<line x1="176.6" y1="1203.0" x2="248.0" y2="1203.0" stroke="#000" stroke-width="5"/>
<circle cx="212" cy="1203" r="12.5" fill="url(#gk)"/>
<line x1="176.6" y1="1242.8" x2="248.0" y2="1242.8" stroke="#ff0000" stroke-width="5"/>
<circle cx="212" cy="1242.8" r="12.5" fill="url(#gr)"/>
<text class="f-sans" x="257.8" y="1213.5" font-size="31" font-weight="bold" textLength="143.5" lengthAdjust="spacingAndGlyphs" stroke="#000" stroke-width="0.35" stroke-linejoin="round">This work</text>
<text class="f-sans" x="257.6" y="1253.3" font-size="31" font-weight="bold" textLength="312.8" lengthAdjust="spacingAndGlyphs" stroke="#000" stroke-width="0.35" stroke-linejoin="round">Pair synapse method</text>
</g>
<g id="panel-d">
<text class="f-sans" x="1022.4" y="1128.2" font-size="55.5" font-weight="bold" textLength="71.7" lengthAdjust="spacingAndGlyphs" stroke="#000" stroke-width="0.35" stroke-linejoin="round">(d)</text>
<rect x="1149.1" y="1151.4" width="832.6" height="612.3" fill="none" stroke="#000" stroke-width="5.4"/>
<line x1="1151.0" y1="1711.6" x2="1161.0" y2="1711.6" stroke="#000" stroke-width="5"/>
<text class="f-sans" x="1119.9" y="1719.2" font-size="28" font-weight="bold" textLength="17.5" lengthAdjust="spacingAndGlyphs" stroke="#000" stroke-width="0.35" stroke-linejoin="round">0</text>
<line x1="1151.0" y1="1609.6" x2="1161.0" y2="1609.6" stroke="#000" stroke-width="5"/>
<text class="f-sans" x="1090.5" y="1617.2" font-size="28" font-weight="bold" textLength="46.8" lengthAdjust="spacingAndGlyphs" stroke="#000" stroke-width="0.35" stroke-linejoin="round">200</text>
<line x1="1151.0" y1="1507.6" x2="1161.0" y2="1507.6" stroke="#000" stroke-width="5"/>
<text class="f-sans" x="1091.1" y="1515.2" font-size="28" font-weight="bold" textLength="46.2" lengthAdjust="spacingAndGlyphs" stroke="#000" stroke-width="0.35" stroke-linejoin="round">400</text>
<line x1="1151.0" y1="1405.6" x2="1161.0" y2="1405.6" stroke="#000" stroke-width="5"/>
<text class="f-sans" x="1090.4" y="1413.2" font-size="28" font-weight="bold" textLength="46.8" lengthAdjust="spacingAndGlyphs" stroke="#000" stroke-width="0.35" stroke-linejoin="round">600</text>
<line x1="1151.0" y1="1303.6" x2="1161.0" y2="1303.6" stroke="#000" stroke-width="5"/>
<text class="f-sans" x="1090.6" y="1311.2" font-size="28" font-weight="bold" textLength="46.7" lengthAdjust="spacingAndGlyphs" stroke="#000" stroke-width="0.35" stroke-linejoin="round">800</text>
<line x1="1151.0" y1="1201.6" x2="1161.0" y2="1201.6" stroke="#000" stroke-width="5"/>
<text class="f-sans" x="1074.4" y="1209.2" font-size="28" font-weight="bold" textLength="62.9" lengthAdjust="spacingAndGlyphs" stroke="#000" stroke-width="0.35" stroke-linejoin="round">1000</text>
<line x1="1218.3" y1="1750.5" x2="1218.3" y2="1762.0" stroke="#000" stroke-width="5"/>
<line x1="1449.5" y1="1750.5" x2="1449.5" y2="1762.0" stroke="#000" stroke-width="5"/>
<line x1="1680.6" y1="1750.5" x2="1680.6" y2="1762.0" stroke="#000" stroke-width="5"/>
<line x1="1911.8" y1="1750.5" x2="1911.8" y2="1762.0" stroke="#000" stroke-width="5"/>
<text class="f-sans" x="1196.0" y="1798.3" font-size="28.6" font-weight="bold" textLength="46.0" lengthAdjust="spacingAndGlyphs" stroke="#000" stroke-width="0.35" stroke-linejoin="round">1x1</text>
<text class="f-sans" x="1413.7" y="1798.3" font-size="28.6" font-weight="bold" textLength="76.5" lengthAdjust="spacingAndGlyphs" stroke="#000" stroke-width="0.35" stroke-linejoin="round">10x10</text>
<text class="f-sans" x="1625.4" y="1798.3" font-size="28.6" font-weight="bold" textLength="107.7" lengthAdjust="spacingAndGlyphs" stroke="#000" stroke-width="0.35" stroke-linejoin="round">200x200</text>
<text class="f-sans" x="1865.3" y="1798.3" font-size="28.6" font-weight="bold" textLength="100.2" lengthAdjust="spacingAndGlyphs" stroke="#000" stroke-width="0.35" stroke-linejoin="round">1K x 1K</text>
<text class="f-sans" x="1481.6" y="1851.0" font-size="36" font-weight="bold" textLength="167.2" lengthAdjust="spacingAndGlyphs" stroke="#000" stroke-width="0.35" stroke-linejoin="round">Array size</text>
<text class="f-sans" transform="translate(1054.5,1548) rotate(-90)" x="-0.7" y="0" font-size="36.5" font-weight="bold" stroke="#000" stroke-width="0.35" stroke-linejoin="round" textLength="169.9" lengthAdjust="spacingAndGlyphs">Area ratio</text>
<polyline fill="none" stroke="#000" stroke-width="5" stroke-linejoin="round" points="1218.3,1711.1 1449.5,1706.5 1611.0,1686.1 1680.6,1660.6 1750.2,1609.6 1790.9,1558.6 1819.8,1507.6 1842.2,1456.6 1860.5,1405.6 1875.9,1354.6 1889.3,1303.6 1901.2,1252.6 1911.8,1201.6"/>
<circle cx="1218.3" cy="1711.1" r="12.5" fill="url(#gk)"/>
<circle cx="1449.5" cy="1706.5" r="12.5" fill="url(#gk)"/>
<circle cx="1611.0" cy="1686.1" r="12.5" fill="url(#gk)"/>
<circle cx="1680.6" cy="1660.6" r="12.5" fill="url(#gk)"/>
<circle cx="1750.2" cy="1609.6" r="12.5" fill="url(#gk)"/>
<circle cx="1790.9" cy="1558.6" r="12.5" fill="url(#gk)"/>
<circle cx="1819.8" cy="1507.6" r="12.5" fill="url(#gk)"/>
<circle cx="1842.2" cy="1456.6" r="12.5" fill="url(#gk)"/>
<circle cx="1860.5" cy="1405.6" r="12.5" fill="url(#gk)"/>
<circle cx="1875.9" cy="1354.6" r="12.5" fill="url(#gk)"/>
<circle cx="1889.3" cy="1303.6" r="12.5" fill="url(#gk)"/>
<circle cx="1901.2" cy="1252.6" r="12.5" fill="url(#gk)"/>
<circle cx="1911.8" cy="1201.6" r="12.5" fill="url(#gk)"/>
<path d="M1433.9,1650.5 C1444.5,1650.0 1476.7,1649.0 1497.3,1647.5 C1517.9,1646.0 1537.6,1645.3 1557.7,1641.5 C1577.8,1637.7 1602.9,1629.7 1618.0,1624.9 C1633.1,1620.1 1638.1,1617.6 1648.2,1612.8 C1658.3,1608.0 1669.9,1601.7 1678.4,1596.2 C1687.0,1590.7 1693.0,1585.6 1699.5,1579.6 C1706.0,1573.6 1712.1,1566.8 1717.6,1560.0 C1723.1,1553.2 1727.7,1546.3 1732.7,1538.8 C1737.7,1531.2 1743.3,1523.0 1747.8,1514.7 C1752.3,1506.4 1756.4,1497.5 1759.9,1489.0 C1763.4,1480.5 1766.8,1469.9 1769.0,1463.4 C1771.2,1456.9 1772.5,1452.2 1773.2,1450.0" fill="none" stroke="#ff0000" stroke-width="5.2"/>
<path d="M1778.6,1432.6 L1763.8,1452.4 L1780.8,1458 Z" fill="#ff0000" stroke="#ff0000" stroke-width="1.8" stroke-linejoin="round"/>
<text class="f-sans" x="1330.3" y="1531.6" font-size="28.7" font-weight="bold" fill="#ff0000" textLength="137.9" lengthAdjust="spacingAndGlyphs" stroke="#ff0000" stroke-width="0.3" stroke-linejoin="round">Obviously</text>
<text class="f-sans" x="1329.4" y="1568.6" font-size="28.7" font-weight="bold" fill="#ff0000" textLength="271.5" lengthAdjust="spacingAndGlyphs" stroke="#ff0000" stroke-width="0.3" stroke-linejoin="round">increased area ratio</text>
<text class="f-serif" x="1205.3" y="1244.8" font-size="38.5" font-weight="bold" font-style="italic" textLength="87.3" lengthAdjust="spacingAndGlyphs">Area</text>
<text class="f-serif" x="1302.5" y="1244.8" font-size="38.5" font-weight="bold" font-style="italic" textLength="96.7" lengthAdjust="spacingAndGlyphs">ratio</text>
<text class="f-serif" x="1407.4" y="1244.8" font-size="38.5" font-weight="normal" textLength="29.1" lengthAdjust="spacingAndGlyphs">=</text>
<line x1="1446.0" y1="1233.8" x2="1836.0" y2="1233.8" stroke="#000" stroke-width="2.6"/>
<text class="f-serif" x="1449.8" y="1212.1" font-size="38.5" font-weight="bold" font-style="italic" textLength="88.3" lengthAdjust="spacingAndGlyphs">Area</text>
<text class="f-serif" x="1549.4" y="1221.3" font-size="28.5" font-weight="bold" font-style="italic" textLength="56.3" lengthAdjust="spacingAndGlyphs">pair</text>
<text class="f-serif" x="1613.2" y="1221.3" font-size="28.5" font-weight="bold" font-style="italic" textLength="111.6" lengthAdjust="spacingAndGlyphs">synapse</text>
<text class="f-serif" x="1731.4" y="1221.3" font-size="28.5" font-weight="bold" font-style="italic" textLength="103.7" lengthAdjust="spacingAndGlyphs">method</text>
<text class="f-serif" x="1494.2" y="1269.6" font-size="38.5" font-weight="bold" font-style="italic" textLength="86.8" lengthAdjust="spacingAndGlyphs">Area</text>
<text class="f-serif" x="1591.0" y="1279.6" font-size="28.5" font-weight="bold" font-style="italic" textLength="92.2" lengthAdjust="spacingAndGlyphs">weight</text>
<text class="f-serif" x="1694.2" y="1279.6" font-size="28.5" font-weight="bold" font-style="italic" textLength="96.0" lengthAdjust="spacingAndGlyphs">shifter</text>
</g>
</svg>
</body>
</html>
